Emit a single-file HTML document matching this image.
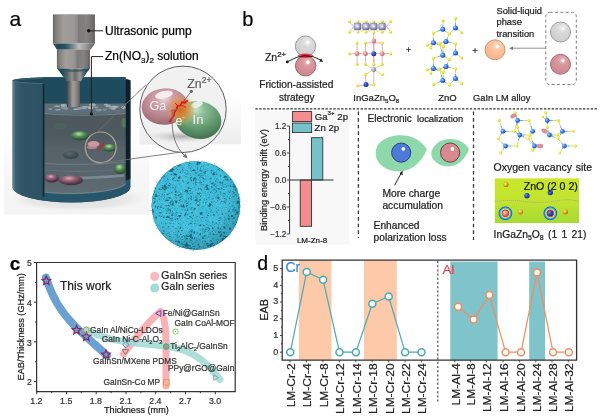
<!DOCTYPE html>
<html><head><meta charset="utf-8"><style>
html,body{margin:0;padding:0;background:#fff;}
svg{display:block;font-family:"Liberation Sans",Arial,sans-serif;}
</style></head><body>
<svg width="600" height="419" viewBox="0 0 600 419">
<defs>
<linearGradient id="gPump" x1="0" x2="1" y1="0" y2="0">
 <stop offset="0" stop-color="#656361"/><stop offset="0.06" stop-color="#7f7d7b"/>
 <stop offset="0.25" stop-color="#a19e9b"/><stop offset="0.5" stop-color="#9a9794"/>
 <stop offset="0.585" stop-color="#8e8b88"/><stop offset="0.6" stop-color="#7d7b79"/>
 <stop offset="0.8" stop-color="#858381"/><stop offset="0.93" stop-color="#747270"/>
 <stop offset="1" stop-color="#5c5a58"/></linearGradient>
<linearGradient id="gBevel" x1="0" x2="1" y1="0" y2="0">
 <stop offset="0" stop-color="#4a5558"/><stop offset="0.12" stop-color="#1f4654"/>
 <stop offset="0.3" stop-color="#2a5563"/><stop offset="0.48" stop-color="#7d878a"/>
 <stop offset="0.62" stop-color="#bcc0c1"/><stop offset="0.8" stop-color="#959595"/>
 <stop offset="1" stop-color="#5a5a5a"/></linearGradient>
<linearGradient id="gCone" x1="0" x2="1" y1="0" y2="0">
 <stop offset="0" stop-color="#123a48"/><stop offset="0.15" stop-color="#1e4a58"/>
 <stop offset="0.3" stop-color="#5a6266"/><stop offset="0.45" stop-color="#8e8e8e"/>
 <stop offset="0.55" stop-color="#6a6a6a"/><stop offset="0.7" stop-color="#9a9a9a"/>
 <stop offset="0.85" stop-color="#3a5560"/><stop offset="1" stop-color="#123a48"/></linearGradient>
<linearGradient id="gNoz" x1="0" x2="1" y1="0" y2="0">
 <stop offset="0" stop-color="#3a4548"/><stop offset="0.2" stop-color="#6a6a6a"/><stop offset="0.45" stop-color="#a09e9c"/>
 <stop offset="0.75" stop-color="#85827f"/><stop offset="1" stop-color="#5a5a5a"/></linearGradient>
<linearGradient id="gWall" x1="0" x2="1" y1="0" y2="0">
 <stop offset="0" stop-color="#8a9ea8"/><stop offset="0.03" stop-color="#5f7b88"/><stop offset="0.1" stop-color="#3c6272"/>
 <stop offset="0.3" stop-color="#2f5567"/><stop offset="1" stop-color="#2b5163"/></linearGradient>
<linearGradient id="gBack" x1="0" x2="0" y1="0" y2="1">
 <stop offset="0" stop-color="#1e4c5f"/><stop offset="1" stop-color="#1f4a5c"/></linearGradient>
<linearGradient id="gLiq" x1="0" x2="0" y1="0" y2="1">
 <stop offset="0" stop-color="#66737a"/><stop offset="0.1" stop-color="#4c575e"/>
 <stop offset="0.35" stop-color="#4e5960"/><stop offset="0.5" stop-color="#566168"/><stop offset="0.8" stop-color="#59656c"/><stop offset="1" stop-color="#606d74"/></linearGradient>
<radialGradient id="gGa" cx="0.5" cy="0.3" r="0.75">
 <stop offset="0" stop-color="#ead2d5"/><stop offset="0.25" stop-color="#cfa1a8"/>
 <stop offset="0.6" stop-color="#b98690"/><stop offset="1" stop-color="#94626c"/></radialGradient>
<radialGradient id="gIn" cx="0.4" cy="0.25" r="0.8">
 <stop offset="0" stop-color="#c8e2cc"/><stop offset="0.25" stop-color="#8cbc96"/>
 <stop offset="0.6" stop-color="#639a70"/><stop offset="1" stop-color="#3f6c4a"/></radialGradient>
<radialGradient id="gGlow" cx="0.5" cy="0.5" r="0.5">
 <stop offset="0" stop-color="#e8601a" stop-opacity="0.95"/><stop offset="0.55" stop-color="#ec8a2a" stop-opacity="0.6"/>
 <stop offset="1" stop-color="#f0a040" stop-opacity="0"/></radialGradient>
<linearGradient id="gFloor" x1="0" x2="0" y1="0" y2="1"><stop offset="0" stop-color="#f7f7f7" stop-opacity="0"/><stop offset="0.5" stop-color="#f7f7f7" stop-opacity="1"/><stop offset="1" stop-color="#f4f4f4"/></linearGradient>
<radialGradient id="gFloorSh" cx="0.5" cy="0.5" r="0.5"><stop offset="0" stop-color="#dcdcdc"/><stop offset="0.7" stop-color="#e8e8e8"/><stop offset="1" stop-color="#f3f3f3" stop-opacity="0"/></radialGradient>
<linearGradient id="gBgRect" x1="0" x2="0" y1="0" y2="1"><stop offset="0" stop-color="#ffffff"/><stop offset="0.6" stop-color="#f4f4f4"/><stop offset="1" stop-color="#ececec"/></linearGradient>
<radialGradient id="gShadow" cx="0.5" cy="0.5" r="0.5">
 <stop offset="0" stop-color="#9a9a9a" stop-opacity="0.8"/><stop offset="1" stop-color="#cfcfcf" stop-opacity="0"/></radialGradient>
<radialGradient id="gPinkE" cx="0.42" cy="0.3" r="0.75">
 <stop offset="0" stop-color="#dcaabb"/><stop offset="0.3" stop-color="#9c6c7e"/><stop offset="0.7" stop-color="#5c3c4a"/><stop offset="1" stop-color="#36222a"/></radialGradient>
<radialGradient id="gGreenE" cx="0.45" cy="0.3" r="0.7">
 <stop offset="0" stop-color="#b4e0ac"/><stop offset="0.4" stop-color="#5a945c"/><stop offset="1" stop-color="#223e2a"/></radialGradient>
<radialGradient id="gDarkE" cx="0.4" cy="0.3" r="0.7">
 <stop offset="0" stop-color="#5a6a70"/><stop offset="1" stop-color="#2e3c42"/></radialGradient>
<radialGradient id="gSph" cx="0.45" cy="0.4" r="0.6">
 <stop offset="0" stop-color="#3fbddb"/><stop offset="0.8" stop-color="#36b2cf"/><stop offset="1" stop-color="#2ea5c3"/></radialGradient>
<radialGradient id="gSphShade" cx="0.42" cy="0.38" r="0.62">
 <stop offset="0.7" stop-color="#0a3a48" stop-opacity="0"/><stop offset="1" stop-color="#0a3a48" stop-opacity="0.25"/></radialGradient>
<clipPath id="cSph"><circle cx="195.9" cy="205.5" r="44.2"/></clipPath>
<clipPath id="cSmall"><circle cx="100.7" cy="147.4" r="15.2"/></clipPath>

<radialGradient id="atW" cx="0.4" cy="0.4" r="0.7"><stop offset="0" stop-color="#ffffff"/><stop offset="1" stop-color="#d0d0d8"/></radialGradient>
<radialGradient id="atY" cx="0.35" cy="0.35" r="0.7"><stop offset="0" stop-color="#fbfb9a"/><stop offset="0.6" stop-color="#e6e62a"/><stop offset="1" stop-color="#b5b510"/></radialGradient>
<radialGradient id="atB" cx="0.35" cy="0.35" r="0.7"><stop offset="0" stop-color="#a8d0ff"/><stop offset="0.5" stop-color="#3a7ee0"/><stop offset="1" stop-color="#1c4ca8"/></radialGradient>
<radialGradient id="atD" cx="0.35" cy="0.35" r="0.7"><stop offset="0" stop-color="#6f8ff0"/><stop offset="0.5" stop-color="#2a4fc8"/><stop offset="1" stop-color="#102a80"/></radialGradient>
<radialGradient id="atR" cx="0.35" cy="0.35" r="0.7"><stop offset="0" stop-color="#f8d0d0"/><stop offset="0.55" stop-color="#e08a8a"/><stop offset="1" stop-color="#b85a5a"/></radialGradient>
<radialGradient id="atP" cx="0.35" cy="0.35" r="0.7"><stop offset="0" stop-color="#e4e4f8"/><stop offset="0.55" stop-color="#a4a4cc"/><stop offset="1" stop-color="#6e6e98"/></radialGradient>
<radialGradient id="atG" cx="0.35" cy="0.35" r="0.7"><stop offset="0" stop-color="#ffe890"/><stop offset="0.55" stop-color="#e0a820"/><stop offset="1" stop-color="#a07010"/></radialGradient>
<radialGradient id="sGray" cx="0.6" cy="0.3" r="0.8"><stop offset="0" stop-color="#f0f0f0"/><stop offset="0.3" stop-color="#dadada"/><stop offset="0.85" stop-color="#cdcdcd"/><stop offset="1" stop-color="#bdbdbd"/></radialGradient>
<radialGradient id="sRed" cx="0.6" cy="0.3" r="0.8"><stop offset="0" stop-color="#f0c4c8"/><stop offset="0.3" stop-color="#d9979e"/><stop offset="0.85" stop-color="#cd8790"/><stop offset="1" stop-color="#bd7680"/></radialGradient>
<radialGradient id="sOr" cx="0.6" cy="0.3" r="0.8"><stop offset="0" stop-color="#fde2cc"/><stop offset="0.3" stop-color="#fbc6a2"/><stop offset="0.85" stop-color="#f6b48c"/><stop offset="1" stop-color="#eca47c"/></radialGradient>
<linearGradient id="gDft" x1="0" x2="0" y1="0" y2="1"><stop offset="0" stop-color="#c9e62a"/><stop offset="0.5" stop-color="#c2e430"/><stop offset="1" stop-color="#a6da32"/></linearGradient>
<radialGradient id="gRing" cx="0.5" cy="0.5" r="0.5"><stop offset="0" stop-color="#f05050"/><stop offset="0.45" stop-color="#f03030"/><stop offset="0.55" stop-color="#f0e030"/><stop offset="0.68" stop-color="#30c0f0"/><stop offset="0.85" stop-color="#2060d0"/><stop offset="1" stop-color="#a8dc40" stop-opacity="0"/></radialGradient>
</defs>
<rect width="600" height="419" fill="#fff"/>
<g id="pa"><rect x="3.7" y="130" width="145.7" height="84.5" fill="url(#gFloor)"/>
<ellipse cx="78" cy="199" rx="72" ry="13" fill="url(#gFloorSh)"/>
<path d="M12.500000000000007,80.5 A58.9,3.6 0 0 1 130.3,80.5 L130.3,187.0 A58.9,15.4 0 0 1 12.500000000000007,187.0 Z" fill="#21485a"/>
<path d="M13.500000000000007,80.8 A57.9,2.8 0 0 1 129.3,80.8" stroke="#3d6678" stroke-width="0.8" fill="none"/>
<rect x="43.3" y="77" width="82.5" height="30.0" fill="url(#gBack)"/>
<path d="M14.500000000000007,80.5 A56.9,3.1 0 0 1 128.3,80.5" stroke="#2c5a6c" stroke-width="1" fill="none"/>
<path d="M43.3,106.0 L125.8,106.0 L125.8,183.9 L122.4,186.2 L118.9,187.7 L115.5,188.7 L112.0,189.6 L108.6,190.3 L105.2,190.9 L101.7,191.5 L98.3,191.9 L94.9,192.3 L91.4,192.6 L88.0,192.9 L84.5,193.1 L81.1,193.3 L77.7,193.4 L74.2,193.5 L70.8,193.5 L67.4,193.5 L63.9,193.4 L60.5,193.3 L57.0,193.2 L53.6,193.0 L50.2,192.8 L46.7,192.5 L43.3,192.1 Z" fill="url(#gLiq)"/>
<path d="M43.3,103.5 L125.8,103.5 L125.8,112.5 Q85,115.5 43.3,112.5 Z" fill="#5d6f78"/>
<ellipse cx="64.0" cy="107.8" rx="3.3" ry="1.2" fill="#8a979e" opacity="0.85"/>
<ellipse cx="90.9" cy="108.1" rx="1.9" ry="0.9" fill="#b4bcc0" opacity="0.85"/>
<ellipse cx="123.5" cy="107.3" rx="2.2" ry="1.6" fill="#b4bcc0" opacity="0.85"/>
<ellipse cx="63.5" cy="105.4" rx="2.9" ry="1.4" fill="#b4bcc0" opacity="0.85"/>
<ellipse cx="50.3" cy="109.0" rx="2.0" ry="0.7" fill="#9aa6ad" opacity="0.85"/>
<ellipse cx="113.2" cy="107.3" rx="2.9" ry="1.6" fill="#b4bcc0" opacity="0.85"/>
<ellipse cx="76.3" cy="109.3" rx="3.4" ry="0.8" fill="#b4bcc0" opacity="0.85"/>
<ellipse cx="74.0" cy="104.7" rx="1.8" ry="1.7" fill="#b4bcc0" opacity="0.85"/>
<ellipse cx="79.5" cy="108.3" rx="2.2" ry="1.5" fill="#8a979e" opacity="0.85"/>
<ellipse cx="90.4" cy="107.7" rx="2.6" ry="1.6" fill="#b4bcc0" opacity="0.85"/>
<ellipse cx="98.8" cy="110.1" rx="3.5" ry="1.4" fill="#8a979e" opacity="0.85"/>
<ellipse cx="58.1" cy="109.7" rx="2.9" ry="0.9" fill="#9aa6ad" opacity="0.85"/>
<ellipse cx="110.6" cy="107.9" rx="1.6" ry="1.2" fill="#8a979e" opacity="0.85"/>
<ellipse cx="95.4" cy="107.4" rx="3.1" ry="1.1" fill="#8a979e" opacity="0.85"/>
<ellipse cx="57.1" cy="106.3" rx="3.2" ry="0.7" fill="#b4bcc0" opacity="0.85"/>
<ellipse cx="93.5" cy="104.8" rx="2.5" ry="1.6" fill="#8a979e" opacity="0.85"/>
<ellipse cx="67.2" cy="105.9" rx="2.0" ry="0.8" fill="#9aa6ad" opacity="0.85"/>
<ellipse cx="92.4" cy="104.7" rx="3.4" ry="1.0" fill="#a8b2b8" opacity="0.85"/>
<ellipse cx="66.0" cy="108.6" rx="2.0" ry="1.7" fill="#8a979e" opacity="0.85"/>
<ellipse cx="115.7" cy="106.8" rx="3.2" ry="1.1" fill="#b4bcc0" opacity="0.85"/>
<ellipse cx="113.3" cy="108.6" rx="2.7" ry="1.6" fill="#9aa6ad" opacity="0.85"/>
<ellipse cx="85.1" cy="107.1" rx="3.4" ry="1.1" fill="#a8b2b8" opacity="0.85"/>
<ellipse cx="65.6" cy="106.3" rx="1.3" ry="1.1" fill="#8a979e" opacity="0.85"/>
<ellipse cx="90.8" cy="104.6" rx="1.4" ry="1.3" fill="#a8b2b8" opacity="0.85"/>
<ellipse cx="81.9" cy="108.6" rx="2.6" ry="1.0" fill="#8a979e" opacity="0.85"/>
<ellipse cx="83.7" cy="108.0" rx="3.4" ry="1.0" fill="#9aa6ad" opacity="0.85"/>
<ellipse cx="81.1" cy="108.1" rx="1.7" ry="0.9" fill="#8a979e" opacity="0.85"/>
<ellipse cx="104.8" cy="109.6" rx="2.0" ry="1.1" fill="#8a979e" opacity="0.85"/>
<ellipse cx="105.9" cy="104.7" rx="2.0" ry="0.9" fill="#a8b2b8" opacity="0.85"/>
<ellipse cx="108.4" cy="105.9" rx="2.8" ry="1.3" fill="#a8b2b8" opacity="0.85"/>
<path d="M43.3,113.5 Q85,117 125.8,113.5" stroke="#7f8f96" stroke-width="1" fill="none" opacity="0.8"/>
<path d="M43.3,163.5 Q85,166 125.8,162" stroke="#6e7e86" stroke-width="1.6" fill="none" opacity="0.7"/>
<path d="M43.3,170 Q85,173 125.8,169" stroke="#6a7a82" stroke-width="1.2" fill="none" opacity="0.6"/>
<path d="M62,178.5 Q95,178 124,175.5" stroke="#8a9aa2" stroke-width="2.4" fill="none" opacity="0.7"/>
<ellipse cx="60" cy="126" rx="7" ry="3.2" fill="#4a6a58" opacity="0.55"/>
<ellipse cx="79.7" cy="135.8" rx="9" ry="4.6" fill="url(#gGreenE)"/>
<ellipse cx="70.8" cy="155" rx="8" ry="3.8" fill="url(#gDarkE)" opacity="0.85"/>
<ellipse cx="51.9" cy="178.2" rx="7.2" ry="4.3" fill="url(#gPinkE)"/>
<ellipse cx="70.9" cy="180.3" rx="12" ry="5" fill="url(#gPinkE)"/>
<ellipse cx="120" cy="169" rx="6" ry="5" fill="url(#gGreenE)"/>
<ellipse cx="124" cy="123" rx="2.5" ry="5" fill="#5f8f66" opacity="0.5"/>
<path d="M43.3,192.1 L46.7,192.5 L50.2,192.8 L53.6,193.0 L57.0,193.2 L60.5,193.3 L63.9,193.4 L67.4,193.5 L70.8,193.5 L74.2,193.5 L77.7,193.4 L81.1,193.3 L84.5,193.1 L88.0,192.9 L91.4,192.6 L94.9,192.3 L98.3,191.9 L101.7,191.5 L105.2,190.9 L108.6,190.3 L112.0,189.6 L115.5,188.7 L118.9,187.7 L122.4,186.2 L125.8,183.9 L125.8,178.7 L130.3,178.7 L130.3,187.0 A58.9,15.4 0 0 1 43.3,200.5 Z" fill="#27566a"/>
<path d="M43.3,192.1 L46.7,192.5 L50.2,192.8 L53.6,193.0 L57.0,193.2 L60.5,193.3 L63.9,193.4 L67.4,193.5 L70.8,193.5 L74.2,193.5 L77.7,193.4 L81.1,193.3 L84.5,193.1 L88.0,192.9 L91.4,192.6 L94.9,192.3 L98.3,191.9 L101.7,191.5 L105.2,190.9 L108.6,190.3 L112.0,189.6 L115.5,188.7 L118.9,187.7 L122.4,186.2 L125.8,183.9" stroke="#8a9aa2" stroke-width="0.9" fill="none" opacity="0.8"/>
<path d="M12.500000000000007,80.5 A58.9,3.6 0 0 0 43.3,83.7 L43.3,200.5 A58.9,15.4 0 0 1 12.500000000000007,187.0 Z" fill="url(#gWall)"/>
<path d="M13.000000000000007,80.7 A58.9,3.6 0 0 0 43.3,83.7" stroke="#4a7080" stroke-width="0.9" fill="none"/>
<rect x="42.699999999999996" y="83.7" width="1.8" height="112.9" fill="#122a36"/>
<path d="M125.8,79.5 L130.5,80.3 L130.5,178.7 L125.8,180.5 Z" fill="#0e212b"/>
<path d="M54.2,14.3 L93.6,14.3 Q94.9,14.3 94.9,15.6 L94.9,43.4 L52.9,43.4 L52.9,15.6 Q52.9,14.3 54.2,14.3 Z" fill="url(#gPump)"/><path d="M54.2,14.6 L93.6,14.6" stroke="#b0aeac" stroke-width="0.6"/>
<path d="M52.9,43.4 L94.9,43.4 L90.6,49.8 L57.0,49.8 Z" fill="url(#gBevel)"/>
<rect x="56.9" y="49.6" width="33.0" height="19.1" fill="url(#gPump)"/>
<path d="M57.3,68.4 L89.7,68.4 L80.7,81.5 L66.7,81.5 Z" fill="url(#gCone)"/><path d="M57.3,68.4 Q73.5,71 89.7,68.4 L88.5,70.2 Q73.5,73.5 58.5,70.2 Z" fill="#24505e" opacity="0.7"/>
<rect x="67" y="81" width="13" height="26" fill="url(#gNoz)"/>
<circle cx="88.7" cy="30.8" r="1.7" fill="#111"/><line x1="88.7" y1="30.8" x2="103.2" y2="30.8" stroke="#222" stroke-width="1"/>
<circle cx="91.4" cy="113.9" r="1.6" fill="#111"/><polyline points="91.4,113.9 91.4,56.6 103.2,56.6" fill="none" stroke="#222" stroke-width="1"/>
<text x="105" y="35" font-size="12" stroke="#111" stroke-width="0.22">Ultrasonic pump</text>
<text x="105" y="60" font-size="12" stroke="#111" stroke-width="0.22">Zn(NO<tspan font-size="8" dy="3">3</tspan><tspan dy="-3">)</tspan><tspan font-size="8" dy="3">2</tspan><tspan dy="-3"> solution</tspan></text>
<text x="9.6" y="25.8" font-size="21" stroke="#111" stroke-width="0.22">a</text>
<g clip-path="url(#cSmall)"><ellipse cx="93.5" cy="144" rx="6" ry="3" fill="#d9a0aa" opacity="0.9"/><ellipse cx="92" cy="147" rx="5" ry="2" fill="#c98f9a" opacity="0.8"/><ellipse cx="109.5" cy="147.8" rx="6.5" ry="3.8" fill="url(#gGreenE)"/><path d="M104,143 L101,147 L99.5,149" stroke="#e01818" stroke-width="1.4" fill="none"/></g>
<circle cx="100.7" cy="147.4" r="15.4" fill="none" stroke="#aaa49c" stroke-width="1.2"/>
<line x1="95.9" y1="133.3" x2="145.9" y2="84.8" stroke="#727272" stroke-width="0.9"/>
<line x1="101.7" y1="163" x2="180" y2="152.2" stroke="#727272" stroke-width="0.9"/>
<rect x="139.5" y="96" width="101.5" height="48.4" fill="url(#gBgRect)"/>
<circle cx="183" cy="109.3" r="43.2" fill="#f1f1f1" stroke="#5e5e5e" stroke-width="1"/>
<ellipse cx="182" cy="136.5" rx="38" ry="6.5" fill="url(#gShadow)"/>
<ellipse cx="164.8" cy="106.6" rx="23.2" ry="18.2" fill="url(#gGa)" transform="rotate(-5 164.8 106.6)"/>
<ellipse cx="198.5" cy="120" rx="23" ry="18.8" fill="url(#gIn)" transform="rotate(10 198.5 120)"/>
<ellipse cx="164" cy="94.8" rx="9" ry="3.8" fill="#fbf4f5" opacity="0.9" transform="rotate(-12 164 94.8)"/>
<ellipse cx="197" cy="104.5" rx="6" ry="3.2" fill="#f2f8f2" opacity="0.85" transform="rotate(-20 197 104.5)"/>
<ellipse cx="181" cy="110" rx="15" ry="16" fill="url(#gGlow)"/>
<path d="M188,100.3 L184.5,103 L182,102 L180.5,105.5 L177.5,106 L176.5,109.5 L174.5,112 L174,115.5 L171.5,118.5 L169.5,122.4" stroke="#e3141a" stroke-width="1.7" fill="none" stroke-linejoin="round"/>
<path d="M181.5,105 L186,107.5 M178,106 L175,103 M176,110 L172,110.5 M183,103.5 L185,99" stroke="#e3141a" stroke-width="0.9" fill="none"/>
<path d="M179.4,109.2 L171.5,110.6" stroke="#7a7a7a" stroke-width="0.8" fill="none"/><path d="M170.2,110.9 L172.8,109.3 L173,112 Z" fill="#7a7a7a"/>
<circle cx="191.3" cy="91.3" r="1.6" fill="#666"/><line x1="191.3" y1="91.3" x2="183.5" y2="101.5" stroke="#707070" stroke-width="0.9"/>
<text x="187.3" y="87.5" font-size="12.3" fill="#606060" stroke="#606060" stroke-width="0.22">Zn<tspan font-size="8.5" dy="-4.8">2+</tspan></text>
<text x="149.4" y="109.8" font-size="12.6" fill="#f4f4f4">Ga</text>
<text x="192.6" y="123.8" font-size="13" fill="#f4f4f4">In</text>
<text x="175.4" y="124.7" font-size="12.5" fill="#f4f4f4">e<tspan font-size="7.5" dy="-5.5">-</tspan></text>
<path d="M172.3,112 C171,134 175,147 185.5,156.5" stroke="#707070" stroke-width="0.9" fill="none"/>
<path d="M187.6,158.6 L182.5,156.5 L185.8,153.6 Z" fill="#707070"/>
<circle cx="195.9" cy="205.5" r="44.3" fill="#1b6c84"/>
<g clip-path="url(#cSph)"><path d="M189.2,219.0l-2.0,3.9M166.2,198.8l6.9,1.3M222.2,211.8l4.4,1.0M157.4,223.0l4.9,2.0M166.5,171.3l-1.5,6.2M208.0,202.8l-5.2,2.5M202.8,213.9l5.0,7.3M211.5,233.4l-2.6,5.7M182.7,201.7l5.1,1.0M181.5,176.0l4.1,6.3M175.9,210.1l-6.5,4.9M197.5,234.6l-0.7,9.2M195.2,181.7l-4.7,0.3M159.1,223.0l6.2,3.2M233.9,211.9l-5.5,5.0M215.8,184.8l-4.4,6.2M173.8,188.7l-8.5,4.7M156.1,210.6l8.1,1.6M171.6,168.6l-4.8,3.0M165.1,229.2l6.8,0.5M199.2,218.0l8.5,1.6M209.6,217.2l3.1,8.7M222.7,215.4l-1.4,9.2M211.3,165.5l4.2,5.0M171.9,237.6l-4.9,0.6M202.9,222.4l5.1,4.6M173.3,193.3l6.5,0.1M177.1,229.4l-8.1,1.2M162.2,200.3l-2.3,3.7M231.7,180.6l-8.1,3.4M170.3,221.8l7.4,2.5M204.6,208.4l3.9,3.0M188.0,214.1l4.9,0.0M212.9,221.1l9.2,0.7M180.8,192.1l4.3,4.3M190.1,215.0l-8.9,4.6M163.4,211.4l4.4,1.2M185.4,223.4l-4.3,2.5M239.1,209.3l-0.4,4.9M189.3,198.6l-0.9,9.8M218.0,175.1l4.2,4.5M215.8,235.1l-0.9,8.6M189.9,221.2l-8.2,5.5M223.5,171.3l-7.1,4.6M199.6,235.3l1.8,3.8M216.3,206.6l5.6,5.9M229.4,196.5l-9.7,2.0M219.6,196.3l4.1,3.4M204.3,220.2l-3.6,8.7M214.5,175.6l-4.1,7.8M231.2,222.7l-8.3,2.4M192.2,172.4l7.4,4.6M179.3,239.8l-6.3,0.6M162.3,228.7l-3.3,3.8M212.2,216.6l-8.4,2.6M224.4,237.4l-7.9,0.5M174.6,231.3l3.7,1.6M231.6,194.2l-0.8,9.6M160.1,220.9l-4.5,2.7M192.9,227.0l5.5,5.2M189.9,232.4l8.7,3.8M178.8,224.9l-2.4,9.1M158.5,222.3l-0.0,7.2M189.4,202.1l1.0,5.0M232.7,204.7l5.9,3.5M188.9,169.7l3.7,6.1M155.4,190.8l7.0,2.4M198.8,226.6l-5.3,4.6M163.2,189.9l-6.4,1.8M172.0,180.9l-0.3,8.2M164.5,210.3l0.7,9.6M185.6,165.4l-5.5,1.0M157.8,188.6l-4.2,2.3M214.6,225.4l5.3,1.2M232.2,218.7l-7.3,5.9M218.3,234.4l-2.3,4.3M224.6,173.0l7.5,6.2M175.5,223.9l-9.0,0.3M211.5,227.3l-0.3,6.0M205.6,227.6l-2.6,3.2M165.1,195.5l6.0,0.3M168.4,182.1l9.7,2.0M203.7,162.0l5.3,1.8M232.4,213.4l3.2,3.6M160.7,223.9l-4.7,3.0M222.0,235.9l-1.8,8.0M206.8,208.5l-3.7,5.4M236.4,220.4l-3.6,8.0M227.0,225.2l9.0,1.9M171.9,208.2l-1.6,9.4M194.3,218.7l-0.5,5.4M207.1,216.4l5.1,0.8M188.7,226.3l-4.2,3.9M176.2,203.7l1.9,3.6M198.3,208.3l-4.9,5.4M209.6,233.5l-4.5,0.9M208.1,174.4l0.1,9.0M173.9,221.1l-5.5,8.2M175.9,236.3l-4.7,6.2M171.9,219.9l4.7,0.8M228.8,220.2l3.5,3.6M234.8,224.6l-7.4,3.2M189.5,224.3l4.1,5.4M208.9,226.7l6.6,7.2M224.8,196.5l7.0,6.8M183.0,230.2l6.3,0.0M161.9,208.4l5.7,4.1M215.7,205.3l6.1,1.8M200.8,205.0l3.1,4.4M170.9,186.1l-5.6,5.6M186.0,161.9l2.0,5.6M215.6,200.9l-5.1,6.0M238.7,215.3l-7.3,2.6M188.6,164.1l6.5,3.0M158.9,201.8l-7.3,5.2M161.8,180.9l-4.4,6.8M194.1,212.0l5.6,2.5M228.8,226.6l-1.4,7.6M170.1,177.3l0.1,4.0M207.3,165.1l-0.1,7.2M191.6,193.8l-3.7,4.1M218.1,213.9l-3.5,3.9M193.0,158.5l0.1,6.3M162.3,207.8l-5.7,5.1M185.7,194.6l4.9,2.5M195.3,179.0l-0.9,4.0M219.4,210.6l-4.2,7.0M185.3,180.7l-0.4,6.8M183.4,207.9l-4.9,1.7M235.2,199.4l6.7,0.4M214.1,163.1l0.9,5.5M203.8,245.1l5.9,4.6M218.5,230.2l-4.7,0.7M213.3,175.4l-7.7,2.9M200.7,245.3l0.2,4.1M226.6,203.3l0.9,5.7M210.0,221.9l4.9,7.6M236.5,204.8l-4.1,2.3M232.3,187.9l-5.5,1.7M180.3,225.6l-7.5,0.0M175.8,226.2l2.8,3.3M225.5,226.0l6.0,7.5M196.1,225.9l-0.2,5.1M169.6,235.0l-8.3,3.2M170.5,173.7l-7.2,1.4M196.3,193.3l-4.5,5.0M195.2,168.1l2.7,3.4M209.9,195.4l0.5,6.0M187.4,241.8l-5.5,0.4M182.9,182.1l-1.1,6.3M201.0,218.2l7.5,5.7M179.8,204.4l-9.5,2.9M178.2,209.4l3.7,2.6M186.5,214.9l4.1,3.8M160.2,185.5l-4.6,4.6M167.1,219.3l2.3,5.6M219.9,214.2l-4.7,0.5M163.0,203.6l-4.8,2.2M191.9,224.3l2.1,6.3M237.1,193.0l-3.8,1.6M235.9,211.9l-6.5,2.2M193.8,200.7l3.2,9.0M217.5,168.7l-5.5,0.5M209.7,212.5l-0.6,8.1M233.1,188.1l-3.8,7.7M159.7,213.7l8.6,1.1M201.8,245.3l-2.6,5.2M213.1,217.9l-3.4,7.5M205.2,209.4l-0.6,7.5M180.5,217.2l-1.3,3.9M190.2,233.6l-7.8,1.0M216.7,183.2l4.1,3.7M230.9,194.7l2.3,3.4M158.7,203.2l1.4,5.4M173.1,167.0l3.2,2.7M182.1,227.9l-2.8,4.4M207.1,166.3l-0.1,5.2M222.6,199.4l-4.5,2.9M199.9,239.8l5.8,7.8M174.2,203.9l5.0,4.2M171.1,166.7l5.7,2.8M204.1,247.3l3.9,1.9M226.3,214.3l-8.8,2.9M194.0,160.7l-5.8,1.3M214.3,243.6l-2.9,3.0M180.7,179.2l2.3,5.5M195.1,205.2l3.9,4.7M213.5,200.9l-5.2,0.6M173.6,235.4l-5.6,3.5M223.2,210.4l3.7,8.8M207.3,230.0l-4.0,1.3M163.5,225.4l-3.2,2.8M209.5,207.2l-5.4,1.4M193.8,160.9l2.7,4.9M226.8,193.3l5.6,6.1M182.2,226.8l8.5,0.1M228.6,187.4l-4.1,0.7M203.8,235.4l-9.6,1.3M178.3,216.7l1.5,6.8M216.5,194.7l-6.9,4.9M214.2,167.6l-2.0,5.6M186.3,228.3l-3.5,2.8M206.9,240.5l3.1,3.1M225.7,208.3l5.1,8.4M227.3,174.3l3.0,3.3M223.8,220.7l-4.1,5.3M200.2,230.4l-3.0,7.5M196.5,162.5l-2.3,4.1M209.6,182.2l-1.3,6.1M192.5,183.8l3.9,3.8M220.5,237.0l-1.5,5.8M160.8,229.7l-0.1,5.4M211.1,171.9l-4.6,0.1M160.3,209.6l-8.3,4.6M216.9,210.6l4.8,1.9M232.4,199.1l-6.1,1.4M212.8,180.1l5.9,6.3M210.7,197.0l-2.3,7.4M199.0,230.8l4.7,2.2M196.0,237.6l-2.4,4.6M222.6,205.2l-2.7,4.3M191.2,221.9l-5.8,4.4M207.8,207.5l2.4,6.9M183.7,193.2l7.1,4.0M173.2,214.2l5.5,8.0M181.7,233.5l2.8,5.9M224.0,169.7l2.2,4.7M188.4,185.5l9.4,0.2M158.8,219.6l2.7,8.9M174.8,209.7l7.3,0.3M165.3,171.6l7.4,2.1M171.6,227.2l5.1,2.5M150.2,198.7l6.5,2.3M208.7,162.9l3.9,2.8M237.0,188.0l0.2,4.3M224.4,192.0l-7.4,2.3M206.0,187.9l-4.2,3.3M164.3,227.3l-4.4,2.6M201.7,229.9l-0.4,6.3M214.8,217.4l-6.1,7.1M229.7,212.6l-3.1,2.9M205.1,189.0l-2.2,6.9M177.8,184.2l1.9,7.3M163.1,218.5l1.1,6.5M230.4,207.9l0.2,5.4M198.9,163.8l0.7,5.0M178.5,206.6l6.1,2.6M220.8,219.5l-0.1,4.2M190.4,192.6l-5.8,6.4M185.6,201.6l-0.1,6.3M216.0,198.3l-9.0,4.3M187.3,162.8l8.1,5.7M154.8,207.1l-4.8,1.3M203.2,163.2l6.0,1.2M199.3,186.9l-5.4,1.8M202.7,185.3l-0.1,9.5M201.9,224.6l-0.1,5.9M210.2,207.5l8.4,4.7M174.1,165.2l7.5,4.4M221.5,224.1l-2.6,5.6M220.2,177.3l-2.3,9.0M232.3,229.7l-2.5,5.8M206.4,183.5l-7.5,0.2M170.6,233.0l0.9,5.0M197.8,194.2l-4.7,3.0M168.7,167.8l-2.1,7.7M192.7,207.0l4.9,0.5M174.3,181.3l-0.4,9.4M211.2,219.3l-1.9,3.7M219.5,204.9l5.8,2.0M202.1,236.5l-1.4,5.0M169.7,182.0l8.8,4.0M192.9,221.5l7.5,2.3M222.2,174.4l1.7,5.3M232.1,205.1l-1.2,6.0M181.9,181.2l-8.2,1.6M192.7,247.3l7.1,1.0M173.6,216.8l8.5,1.6M231.2,207.6l-4.8,0.9M206.8,234.5l-0.2,7.8M201.5,186.0l3.3,4.8M239.2,215.5l-6.4,5.2M239.1,204.7l-4.7,4.9M192.6,174.1l3.5,3.0M194.8,210.5l4.2,7.4M183.8,164.8l-3.5,4.4M171.0,193.6l-5.6,4.4M195.1,240.7l-5.3,0.6M198.1,199.8l3.7,4.0M196.3,160.1l-4.2,4.3M211.1,184.8l6.9,6.4M173.1,174.1l-4.9,8.6M158.5,209.5l-5.3,7.4M161.6,217.2l-1.3,5.7M199.6,238.5l9.2,2.3M195.9,209.7l9.0,3.1M184.4,219.2l4.2,0.4M185.8,168.9l-4.9,6.9M225.4,215.2l3.7,8.1M209.2,166.5l9.0,1.9M230.6,182.5l4.9,1.7M206.1,208.8l-7.9,4.1M170.2,172.7l-2.3,5.2M209.1,211.9l-3.8,3.6M180.9,231.6l5.5,0.4M187.1,239.7l2.4,5.4M230.1,196.7l-6.9,3.5M223.1,206.8l1.7,8.5M174.9,233.5l-0.6,5.3M206.7,193.9l-4.2,2.7M219.5,202.3l-7.2,6.7M226.9,202.0l0.2,8.8M206.3,230.2l4.2,8.0M191.4,246.6l3.3,4.1M182.4,174.3l7.4,2.6M232.9,221.2l-5.1,7.1M176.5,183.4l1.9,6.1M207.9,196.5l-3.9,1.4M205.5,226.4l-6.7,2.1M163.0,232.0l5.0,4.5M160.8,195.1l-5.6,5.5M177.1,224.1l8.0,4.2M172.9,171.2l5.7,3.4M197.7,170.7l6.2,2.6M209.8,189.5l4.8,3.3M181.9,165.2l4.4,2.3M196.5,228.5l-0.3,5.0M191.0,222.3l-8.3,0.7M227.9,230.6l6.0,2.0M237.6,199.0l-4.4,4.9M205.2,238.2l4.9,1.7M188.3,206.6l2.7,8.3M186.3,172.9l-2.7,6.2M216.4,228.4l2.5,8.1M221.3,185.4l-2.0,8.3M180.2,212.1l-6.0,7.1M205.1,166.9l-7.2,3.6M174.9,179.0l4.3,6.5M222.7,219.5l-6.4,5.2M179.8,186.0l1.6,6.5M177.8,181.7l-5.0,8.2M213.0,236.3l-4.9,4.1M148.5,207.9l7.2,0.9M220.3,238.2l-7.0,1.3M223.6,221.4l-1.1,8.2M163.5,201.0l-6.1,3.6M156.1,226.2l6.4,5.0M161.0,227.9l9.2,3.7M187.3,211.4l4.2,4.9M223.6,203.9l2.0,7.9M179.0,221.1l6.4,5.5M222.5,190.8l6.8,5.6M176.0,216.7l8.0,3.4M208.5,168.8l0.7,7.3M200.7,245.2l3.5,7.0M212.4,166.1l0.6,5.7M183.5,199.3l-5.3,3.1M208.5,184.4l2.1,5.1M174.6,214.1l8.3,0.1M189.6,224.3l4.0,5.6M165.4,218.2l-3.0,5.4M228.6,186.9l8.8,1.6M224.5,181.6l8.1,3.8M187.4,201.3l9.7,0.4M181.2,186.3l4.6,1.5M198.8,242.3l2.3,4.4M224.5,180.7l8.1,4.7M167.7,176.7l-4.7,8.1M202.2,163.5l6.6,4.7M157.4,193.6l1.8,9.1M172.6,196.1l3.6,3.2M184.9,203.5l0.5,4.8M165.1,202.6l-1.1,9.1M236.3,203.5l0.7,7.3M174.0,167.3l2.5,6.0M209.4,199.0l-3.3,7.1M232.7,207.7l-5.2,8.1M174.7,240.6l-0.2,6.9M204.9,197.6l-4.9,6.0M172.7,237.4l2.8,6.3M154.7,197.2l5.2,4.1M169.1,219.5l-4.9,3.0M209.2,177.7l-0.1,5.6M154.0,199.9l-4.1,7.7M181.5,224.4l4.4,6.1M165.7,175.4l8.3,1.0M217.8,183.4l5.7,0.9M219.0,205.3l-7.4,1.9M178.0,171.3l-7.4,2.1M171.9,178.8l-4.4,6.2M189.0,184.0l-3.4,5.8M195.2,190.2l3.6,2.3M203.9,160.7l-2.9,5.5M213.8,167.3l-1.1,5.4M184.8,230.1l3.6,5.5M165.2,171.4l7.3,1.3M213.9,207.2l-6.2,4.2M218.7,190.8l6.3,0.3M163.2,181.8l-6.8,0.4M184.9,210.6l-2.3,4.7M195.1,210.0l8.1,0.1M223.0,234.5l8.9,2.5M201.7,207.7l-3.5,4.2M189.6,185.7l8.5,1.4M188.0,163.7l-3.0,3.4M169.4,173.6l1.2,9.5M196.1,247.6l-2.6,3.2M233.5,207.6l-3.8,2.4M177.7,238.5l7.9,4.6M183.6,203.0l3.0,6.8M158.0,217.3l7.9,3.9M173.9,229.6l-2.6,6.0M170.5,230.7l-8.6,1.5M169.1,194.8l9.7,1.9M182.3,163.5l3.8,6.6M237.0,197.0l-1.8,5.6M156.6,219.9l3.1,7.5M164.4,178.7l-4.7,3.2M217.8,202.1l1.8,7.3M208.3,166.5l8.9,1.2M212.2,164.4l-1.3,5.5M222.2,169.4l-5.2,7.9M189.2,211.8l-1.5,8.7M210.4,241.6l-5.3,1.2M166.9,180.1l0.6,5.2M197.4,242.0l-5.4,4.1M232.0,224.7l-4.1,3.5M162.3,184.0l-6.7,2.5M160.0,209.1l4.3,2.9M210.1,235.9l3.1,6.7M167.8,222.9l3.8,1.9M219.4,203.7l7.4,2.6M200.9,185.5l-1.8,5.8M184.6,204.2l9.9,1.0M217.2,179.6l-1.2,5.4M205.4,176.2l-8.5,1.4M212.7,164.3l3.0,3.0M199.6,223.0l4.2,1.1M156.4,186.1l1.3,9.6M206.4,196.4l-1.9,6.1M225.1,232.6l5.1,5.3M169.9,169.1l-3.2,5.5M184.0,210.6l-9.9,1.1M195.3,211.9l4.2,4.4M232.4,180.2l-3.7,2.1M206.6,164.5l-4.4,8.9M215.3,208.0l-6.9,6.7M186.3,179.6l-2.4,8.2M214.2,219.4l3.3,3.4M176.0,206.0l3.6,3.3M195.3,199.0l-3.3,4.0M234.0,212.0l7.4,6.1M221.0,172.9l6.0,2.8M234.5,228.2l-6.8,3.7M174.0,211.3l-5.8,3.6M182.6,192.0l3.3,2.8M184.3,171.2l8.3,4.1M190.5,232.6l5.0,2.6M206.6,182.0l6.0,3.5M173.7,242.2l9.2,3.5M236.7,217.9l-2.7,4.5M170.5,207.0l3.6,3.8M171.5,238.8l-9.6,0.1M217.5,218.6l-4.1,1.4M194.4,181.5l-4.1,0.3M203.2,180.3l3.6,1.7M209.1,175.6l5.5,3.6M214.1,192.2l-1.1,4.7M214.1,238.8l-3.2,4.1M208.6,208.5l-2.3,6.6M194.3,221.6l-2.9,7.7M207.0,172.7l3.5,2.6M194.2,175.6l-2.8,3.3M209.5,179.4l-8.1,4.4M193.7,204.8l-6.6,1.9M208.1,186.5l7.5,5.0M182.3,215.4l3.0,7.0M227.4,202.9l1.2,7.0M227.1,228.9l-7.7,5.0M178.2,235.4l3.1,7.9M237.9,220.6l-6.9,1.0M163.8,200.7l-0.5,4.1M214.6,200.0l3.9,2.5M193.5,245.5l4.6,0.4M185.9,186.6l7.6,0.4M168.7,188.8l-2.7,3.7M219.3,177.6l4.7,0.7M162.9,204.9l3.0,3.6M183.5,210.3l-2.6,8.8M217.9,230.6l-3.5,3.6M214.6,164.2l2.2,6.1M211.6,173.7l3.1,9.1M198.1,177.9l4.4,4.1M159.3,220.1l-7.7,5.5M208.7,167.3l7.0,1.2M235.1,191.9l4.6,4.6M178.1,183.4l-0.4,4.4M164.6,218.3l4.8,0.3M238.2,197.3l-7.6,1.5M213.1,165.8l-3.9,1.5M183.0,185.3l-3.0,4.8M155.6,191.7l-2.0,5.1M169.7,201.3l-5.7,0.9M180.2,237.8l7.0,2.8M224.3,194.3l4.5,5.1M176.9,201.0l4.4,1.8M186.5,230.7l3.4,4.3M227.3,220.9l-6.7,3.7M160.1,187.7l6.7,4.9M165.1,210.3l-2.4,6.4M185.1,223.6l5.4,4.5M167.6,228.2l6.1,0.2M210.6,185.5l-1.2,6.8M183.7,245.2l5.2,6.9M205.2,213.8l-6.1,2.6M220.7,211.9l1.6,8.3M216.4,218.3l-8.4,1.1M208.7,223.2l3.6,7.2M168.4,176.2l-6.0,3.8M195.7,164.9l-5.0,4.7M206.4,168.3l-4.6,1.3M200.7,200.9l-5.6,5.0M153.0,202.9l-1.5,6.3M205.7,161.9l-2.1,5.9M169.0,212.2l-3.7,4.4M169.2,223.8l2.1,5.5M205.4,162.3l0.0,6.7M202.4,226.3l6.7,3.3M187.3,198.3l-5.8,1.5M221.0,171.2l-5.2,0.7M155.7,224.4l4.3,0.1M171.3,192.0l-8.4,2.1M152.9,191.3l-0.4,7.1M183.3,176.6l3.3,6.8M172.1,237.3l-3.8,6.1M216.9,217.9l2.3,7.0M162.0,186.4l-6.9,0.8M166.2,218.4l-6.1,0.1M153.9,196.4l5.1,3.0M236.1,197.7l-0.2,4.7M229.2,180.1l-8.4,5.3M215.4,185.5l5.1,2.7M162.2,201.8l4.2,2.8M170.0,175.8l4.4,8.9M188.7,194.4l2.4,8.4M180.1,240.1l5.8,0.1M215.8,174.7l-2.6,4.5M160.2,203.0l5.3,5.8M153.1,193.6l-1.5,6.3M210.3,216.1l-3.4,3.2M211.1,211.9l-0.6,8.9M163.6,179.1l4.0,0.8M201.1,178.0l-3.8,4.8M202.6,224.1l9.0,2.9M172.6,189.4l1.0,6.2M236.7,214.9l-2.5,9.4M161.8,217.0l3.0,3.0M230.6,184.3l5.2,7.8M207.3,178.4l-3.1,9.3M150.3,204.5l4.6,4.4M189.2,181.2l5.2,7.6M154.7,207.6l3.6,3.5M186.7,220.2l-5.7,0.5M182.3,196.7l-0.7,6.3M182.4,210.3l8.3,3.4M180.5,221.6l4.7,3.2M198.1,211.2l-3.0,5.3M214.0,235.7l5.4,1.6M203.2,187.4l1.6,8.9M200.1,185.1l3.7,7.5M160.9,233.0l7.7,5.9M174.3,202.5l0.7,4.7M193.3,182.5l-7.2,2.3M181.9,219.3l-1.8,5.0M206.9,190.7l-0.3,7.2M189.5,240.6l2.8,7.4M172.5,193.1l1.5,4.2M211.9,238.9l4.3,6.7M220.3,223.4l3.0,6.3M191.1,214.2l3.0,4.4M220.3,229.8l4.1,5.0M233.1,182.6l-8.6,3.3M207.7,222.4l8.0,0.7M181.2,179.1l2.2,7.7M191.7,183.0l-5.4,2.8M178.4,190.1l8.9,3.4M190.0,167.9l4.2,0.5M204.5,219.8l3.6,5.1M221.0,209.3l-2.1,4.6M215.5,174.9l-3.5,4.3M161.2,218.4l1.8,3.6M214.4,170.0l2.6,3.3M214.3,177.6l5.4,0.8M222.5,228.1l7.5,5.8M197.7,189.8l-3.7,5.2M193.8,163.2l2.9,3.5M227.2,195.0l-8.0,1.8M194.3,162.0l-2.6,6.2M230.2,214.5l1.6,6.9M211.8,197.1l-3.1,2.9M181.7,164.6l5.0,5.3M231.2,196.0l-0.8,5.4M220.0,212.7l1.4,5.0M192.2,217.6l-4.9,6.4M197.7,224.0l-0.3,6.7M217.4,191.4l5.5,7.5M214.7,227.6l4.4,7.7M155.4,191.9l6.9,4.1M174.6,184.9l-6.7,6.0M212.8,218.9l2.2,4.7M214.5,211.8l6.7,4.8M179.9,207.4l3.6,5.8M182.0,218.9l4.0,0.9M230.4,202.5l8.0,2.2M225.8,200.2l6.5,2.3M178.4,211.3l-0.5,4.0M229.0,183.8l-3.8,8.8M181.4,185.5l3.5,3.4M237.0,210.9l-5.1,2.8M214.1,236.0l-8.5,4.5M218.9,237.7l-7.3,4.3M189.6,220.9l-5.1,3.1M171.7,225.7l3.6,8.2M197.3,210.7l-1.6,7.6M216.4,170.2l-9.2,2.8M161.9,205.2l5.1,2.8M186.3,197.3l-2.8,4.1M152.8,220.2l4.1,1.2M179.1,211.2l-2.6,3.1M220.7,168.8l-5.1,4.1M188.5,237.6l-0.3,6.5M182.5,226.6l-4.5,7.8M208.8,192.6l4.0,5.3M169.9,194.0l3.7,2.6M187.1,232.1l-9.4,0.9M228.9,172.2l-7.7,0.9M202.0,192.1l-4.0,6.5M189.5,237.2l-6.8,1.0M179.1,181.9l4.4,8.2M216.7,206.0l-3.6,5.7M225.5,220.5l2.9,6.9M168.5,218.6l-1.3,6.2M213.6,216.7l-6.9,2.5M225.8,230.7l3.2,3.3M173.9,197.6l0.2,7.3M197.5,237.6l6.6,2.5M184.6,196.7l1.3,4.3M158.2,216.7l-1.3,8.2M200.7,190.3l-8.3,0.2M227.5,227.4l1.7,4.7M230.1,195.6l-3.7,3.1M195.4,192.9l4.6,4.2M227.8,207.0l4.5,3.6M191.9,176.2l-7.3,2.6M223.5,180.3l-8.9,2.4M212.8,235.2l4.1,7.5M175.9,167.7l5.8,2.3M193.8,160.7l-2.7,3.3M185.4,192.6l-1.3,8.7M229.8,231.0l-2.9,4.7M209.6,231.5l-6.5,3.6M196.6,208.2l8.3,3.0M206.5,232.7l5.0,6.4M186.9,215.6l-6.7,2.8M183.1,168.0l-4.0,0.7M186.4,215.3l-0.1,9.2M194.8,195.1l7.5,4.8M183.8,177.8l0.4,4.9M215.1,180.9l-7.1,3.0M214.9,214.3l7.3,5.9M185.4,199.0l5.3,3.1M161.7,209.4l2.1,5.7M228.7,205.0l2.1,3.6M150.7,216.3l4.8,0.7M182.5,182.4l4.6,5.3M193.8,234.1l-0.9,9.7M204.9,200.9l-1.6,8.5M224.7,173.8l-3.2,7.1M184.2,220.6l-7.4,5.5M227.5,188.2l5.0,7.0M195.1,171.0l-2.5,5.6M166.0,196.0l5.9,1.1M176.1,242.0l0.4,6.2M195.7,224.9l2.2,4.3M236.9,204.1l1.0,6.6M171.8,194.1l3.8,2.2M190.4,226.2l-4.8,5.5M223.5,194.6l-7.3,1.8M213.6,209.8l-2.5,9.6M170.5,231.7l2.1,9.0M226.8,217.4l-5.4,1.8M193.1,210.9l4.9,2.8M189.2,183.1l1.6,4.9M164.0,178.3l-2.3,4.6M192.2,159.9l-1.4,4.3M209.9,164.6l2.3,4.2M211.9,234.2l-7.2,3.0M211.8,192.3l4.4,7.3M180.7,180.1l-3.2,5.1M218.9,215.1l7.7,1.1M180.9,229.8l-1.7,5.3M194.4,205.8l-7.2,1.7M207.9,200.8l-2.9,7.8M187.3,216.3l4.3,2.3M200.1,190.4l-5.5,3.6M163.4,193.4l-1.4,7.8M177.2,188.2l-3.8,4.0M188.8,165.9l-4.5,3.8M201.7,159.1l0.8,5.6M151.3,198.4l3.7,1.6M162.6,209.0l-4.7,4.0M218.7,202.5l-3.3,3.1M208.5,207.7l6.9,1.3M181.1,198.5l-6.1,1.2M210.2,217.1l-6.5,7.0M202.0,210.2l-4.2,3.5M228.4,199.3l-2.5,5.5M202.8,172.8l5.0,8.0M221.7,228.6l7.7,1.6M158.5,228.7l7.3,1.4M163.7,227.7l-7.6,1.3M197.3,225.1l4.5,4.8M201.1,222.7l-5.7,5.4M179.7,245.5l5.8,4.7M221.3,238.8l-5.1,2.2M194.4,162.8l3.8,4.6M150.5,207.3l7.1,3.9M172.5,183.8l-2.3,9.0M204.5,242.1l3.7,7.9M212.9,189.1l-9.1,4.1M189.2,210.5l9.2,3.4M234.6,206.1l7.5,3.8M212.1,214.1l-2.5,3.8M176.1,238.0l-5.8,7.2M200.7,201.5l6.5,5.9M192.7,194.8l-0.1,5.4M177.9,211.3l9.9,0.6M175.8,242.3l6.4,2.6M211.6,225.3l6.9,4.3M218.8,233.8l-0.0,4.7M179.9,229.7l-5.9,1.5M209.3,246.7l-7.8,3.0M191.7,222.4l3.0,3.3M225.4,210.5l2.1,7.0M195.1,205.7l-4.4,6.6M167.0,192.4l-5.6,8.2M221.5,175.9l1.8,5.6M156.5,223.9l2.2,5.9M183.7,214.5l-4.0,0.0M159.9,175.9l5.3,5.5M178.4,219.4l3.8,2.7M219.7,172.0l-4.1,1.2M188.8,178.4l-3.2,6.5M174.1,245.7l8.5,0.0M216.6,175.4l-2.9,9.6M201.5,238.4l-4.3,4.5M189.6,174.5l-0.6,7.7M186.2,179.5l-2.9,6.7M198.5,236.3l6.4,7.0M158.9,208.4l-0.5,6.8M202.4,221.2l-7.0,1.6M166.2,199.2l-4.5,3.0M214.3,237.2l1.0,7.8M217.5,167.4l-3.9,1.7M168.1,231.8l-4.0,2.6M205.7,222.9l5.8,1.9M206.1,172.9l0.7,4.5M162.6,229.9l-3.9,5.5M158.3,209.2l-3.6,3.4M184.6,178.4l-0.4,5.4M177.3,222.4l1.5,3.8M203.6,237.1l5.0,0.9M189.8,180.3l2.9,4.6M204.6,189.7l-3.8,8.3M207.6,230.8l-6.1,4.7M188.9,209.2l1.1,6.1M189.1,178.2l2.3,7.6M204.4,177.5l2.6,7.0M217.4,196.3l-8.2,0.7M169.5,229.7l2.3,3.8M197.2,174.6l-0.6,7.0M223.6,182.7l7.5,0.6M169.3,211.0l-5.7,3.1M153.8,209.0l1.3,6.8M157.8,198.9l-4.3,7.3M190.6,207.6l-3.9,6.2M198.1,165.8l5.0,1.9M229.4,223.5l4.3,1.4M192.6,171.4l8.0,1.4M184.4,174.8l8.0,1.4M170.8,222.2l-8.9,0.1M205.9,190.2l3.5,6.2M238.3,205.1l3.6,4.2M190.5,224.7l-6.6,3.1M164.2,203.0l5.8,0.9M225.1,174.7l-5.0,2.4M199.3,212.1l-0.7,6.2M166.4,209.4l-1.6,6.0M205.8,185.7l-7.1,1.8M219.9,210.2l-0.7,6.4M169.8,192.1l5.7,6.6M189.3,239.5l-6.1,4.4M153.8,213.0l1.6,9.1M224.2,214.0l-1.8,3.9M204.4,194.0l-1.5,4.9M228.2,187.8l-5.7,4.1M177.5,170.9l3.2,4.2M207.4,190.4l-5.1,1.3M210.7,210.6l-7.6,6.1M161.6,220.5l6.5,6.8M185.0,188.7l8.0,1.4M233.6,213.9l3.3,4.3M174.5,190.7l-0.9,4.8M219.6,191.0l-4.3,2.3M208.6,161.6l1.4,4.0M167.2,227.5l5.6,4.7M223.3,219.8l-4.3,5.0M191.4,190.7l-4.1,2.4M238.8,184.2l-7.0,1.4M191.7,228.4l-4.9,4.9M208.0,195.1l0.4,9.2M166.8,186.0l4.7,1.3M192.7,245.9l-4.7,2.5M204.5,197.2l-3.0,9.3M172.8,239.5l-2.0,3.8M178.0,228.4l6.0,5.9M211.7,239.3l2.6,3.6M183.8,196.2l-1.4,8.6M167.4,188.0l7.0,0.7M221.8,224.5l6.8,3.0M180.7,225.1l-2.4,4.3M214.5,239.4l4.6,7.8M215.5,182.5l4.1,2.1M206.9,191.4l0.1,7.2M215.3,224.2l6.3,3.6M166.4,202.5l5.2,3.7M197.1,217.5l6.7,6.3M149.1,204.8l9.6,0.5M157.3,204.4l-1.8,7.9M198.4,242.4l4.9,2.6M223.4,208.0l-0.3,5.7M206.5,194.7l-1.3,5.2M164.7,181.6l-2.7,3.4M198.9,239.8l-4.2,0.2M171.2,178.8l-5.1,3.3M209.1,176.9l-3.9,1.0M221.8,192.9l1.3,4.3M198.4,241.5l-2.6,4.2M184.4,217.8l4.3,3.1M178.8,243.8l-8.7,0.1M168.4,206.5l-7.3,6.0M193.1,167.7l6.3,4.5M214.3,171.8l8.0,2.4M189.4,219.6l-8.0,0.9M199.6,186.7l-8.3,4.9M231.4,181.7l-7.6,4.4M174.9,187.4l-7.4,4.5M216.2,187.4l-7.1,0.9M214.5,200.0l-8.7,0.9M193.5,244.5l3.9,3.5M174.9,206.4l0.2,9.4M179.6,166.9l2.9,8.2M210.3,169.3l-8.8,1.6M187.1,208.8l-4.2,8.0M181.4,232.4l-7.6,4.3M224.7,206.3l4.7,0.2M208.0,175.7l-2.2,6.4M183.4,219.1l4.0,8.1M175.6,188.3l5.4,1.5M189.1,173.4l-4.3,7.7M218.2,230.2l8.9,1.2M208.3,226.3l-6.1,0.8M204.3,242.5l-3.2,8.8M174.6,224.4l-7.0,1.0M217.4,202.8l-4.3,2.5M191.0,202.8l8.2,5.1M155.3,214.6l4.3,4.3M225.8,223.6l-6.4,3.0M169.0,234.2l-7.6,2.6M226.3,216.8l1.7,9.6M173.8,230.3l-2.5,5.7M163.0,199.4l-6.7,2.0M162.7,237.9l8.9,1.6M181.7,170.9l1.4,8.4M226.8,180.0l-3.0,3.0M193.0,219.5l-9.2,1.4M217.4,230.3l-1.0,4.2M167.1,227.0l-2.4,5.1M198.2,178.3l-0.9,6.5M234.7,198.3l-6.6,4.6M166.5,232.1l-5.0,6.4M193.9,218.8l-2.1,8.7M199.8,178.7l6.4,3.0M210.5,191.2l-3.4,3.7M190.1,212.5l3.7,5.1M236.2,194.9l4.9,3.2M212.7,195.9l3.5,5.6M212.5,216.8l2.1,6.0M214.5,197.5l7.6,5.7M159.0,214.1l-3.6,7.9M191.5,219.1l-4.9,4.7M163.9,190.4l-4.0,4.0M168.4,235.0l-0.5,5.7M182.0,187.6l-3.2,2.8M209.3,171.5l4.3,8.6M190.2,226.6l7.1,1.6M195.6,164.6l2.4,8.5M216.9,217.0l-4.3,8.8M173.6,175.8l-4.8,4.1M230.1,188.7l3.0,5.6M201.1,178.2l7.7,5.1M166.8,195.1l-4.8,8.1M210.0,224.1l6.3,1.3M156.7,201.7l-3.8,6.5M165.2,221.2l5.9,6.9M202.1,164.1l7.1,3.7M201.2,172.6l-8.9,2.9M196.2,161.1l-4.2,8.3M223.5,229.8l-4.6,6.2M195.5,212.7l-2.9,8.5M191.2,224.4l3.5,3.0M178.7,164.4l-5.0,3.6M194.8,192.7l-5.2,2.9M228.6,205.1l5.1,2.4M224.3,211.9l-1.5,8.7M232.6,214.6l5.0,1.8M176.2,183.4l3.8,6.4M200.3,241.6l7.2,5.5M203.3,174.7l8.6,0.8M226.5,209.0l1.0,4.3M170.8,174.8l-1.7,6.2M158.4,199.9l7.0,6.0M238.8,204.1l-5.9,0.7M207.6,202.1l0.3,4.8M162.7,213.3l-4.1,5.3M184.5,219.0l1.7,5.4M209.2,238.0l-0.3,6.6M205.7,239.2l4.6,3.2M165.5,191.4l-8.5,0.7M239.0,188.7l-5.4,6.4M209.9,213.1l9.2,0.4M187.6,168.5l4.1,4.5M217.1,235.7l-5.8,0.2M211.7,206.4l4.1,8.4M203.8,176.5l4.4,1.5M217.7,232.8l0.9,9.9M229.3,180.2l0.7,8.9M206.8,212.6l-1.4,6.9M196.8,226.8l9.4,0.6M188.5,163.4l-6.6,0.4M196.6,175.6l-7.5,5.0M196.3,206.9l5.9,4.7M196.6,206.2l-7.5,4.4M190.3,206.4l-6.8,2.5M220.5,212.1l-3.6,8.6M158.3,207.3l4.4,3.3M215.2,188.9l7.1,2.4M209.3,216.0l1.0,7.4M171.0,175.1l0.8,4.3M194.0,192.1l0.6,6.4M175.5,169.5l5.8,5.4M180.7,174.9l8.5,4.1M183.2,195.6l7.3,6.8M203.1,230.4l-7.0,5.5M168.1,176.7l4.5,0.5M233.2,199.3l4.3,0.5M195.4,245.8l6.2,5.1M230.8,189.7l-5.4,1.4M201.0,208.8l-3.3,3.2M229.2,196.8l7.4,4.9M208.4,231.3l8.2,2.8M224.1,178.2l9.1,0.1M158.1,187.8l-0.1,7.7M160.8,182.7l4.2,1.0M172.2,196.8l1.3,3.8M199.5,196.3l-7.6,4.5M182.1,207.2l-2.4,4.7M186.2,211.6l-7.3,0.5M190.7,213.0l-6.0,6.8M202.9,191.3l2.4,5.3M198.9,183.8l-3.2,9.3M194.1,201.3l4.6,1.1M183.9,169.9l-0.4,6.7M169.0,220.4l-4.3,8.5M195.9,164.8l-8.7,2.4M196.7,194.0l-4.9,7.7M154.0,220.5l8.2,5.2M158.9,216.8l4.1,4.1M178.0,225.2l6.4,2.0M235.8,200.3l-8.4,1.8M220.9,165.6l-4.0,4.0M193.3,233.9l5.4,0.4M225.9,173.8l4.4,7.4M205.3,161.9l-5.7,4.3M225.7,227.0l4.3,6.5M176.5,229.4l-4.9,0.5M161.3,193.8l-1.2,9.6M163.1,224.8l-5.5,8.1M210.3,212.7l5.8,7.4M221.6,203.6l-6.2,7.7M211.3,228.5l-4.5,6.8M193.0,164.9l3.9,3.9M230.1,210.2l4.4,3.4M231.8,193.8l-2.2,7.6M164.3,182.3l2.5,3.6M199.8,205.5l2.0,4.4M223.7,225.5l-8.1,0.8M188.2,242.9l3.9,2.4M188.4,229.6l-3.7,5.5M197.0,191.3l-5.9,1.3M202.1,197.3l-4.6,2.7M221.8,171.6l-2.9,4.9M217.6,206.0l-4.7,1.5M178.7,174.6l-2.5,4.4M207.6,216.2l-6.3,0.3M174.9,176.6l3.4,2.8M232.3,207.4l9.0,3.9M167.2,232.3l7.9,3.7M195.8,230.1l-0.3,4.7M194.4,242.7l3.9,4.9M195.7,183.0l4.4,3.0M177.3,220.3l-2.9,6.2M205.0,194.3l-4.4,7.9M196.2,210.8l0.9,4.6M157.3,214.2l4.5,1.4M175.0,205.7l5.0,4.4M203.0,210.3l2.9,6.2M223.8,192.0l5.2,1.2M199.2,170.2l-9.0,3.9M208.7,193.4l-7.0,1.3M199.5,222.8l-4.8,2.2M219.1,216.1l-6.6,1.6M194.0,190.5l0.9,5.8M204.9,238.2l2.0,4.3M224.9,201.3l3.4,2.2M174.2,179.1l6.8,0.5M191.4,170.6l5.2,4.7M163.6,181.6l7.9,3.9M234.8,191.3l-5.6,2.7M208.6,192.1l5.7,5.0M204.6,196.8l3.3,2.7M176.9,209.3l7.0,4.8M157.3,180.1l2.4,7.7M236.5,206.6l5.1,4.6M152.6,197.4l0.2,9.9M183.2,189.9l-4.5,2.6M222.3,202.2l7.4,6.4M181.6,227.5l3.8,7.1M218.9,207.2l7.8,4.4M228.3,203.1l4.6,4.9M158.7,190.1l4.9,2.3M225.4,234.4l4.3,2.2M164.3,200.0l-4.1,1.5M198.6,220.4l-1.8,6.5M162.9,224.2l-4.5,8.0M221.3,198.7l-6.3,1.2M234.3,218.4l3.9,1.3M194.6,228.2l-9.2,1.0M171.5,219.1l-7.9,4.0M175.2,178.3l5.1,2.0M181.1,174.2l-7.6,5.5M210.3,199.8l9.1,2.2M180.3,195.1l-3.1,4.6M198.5,228.3l-0.6,8.0M231.5,219.4l-2.6,6.3M173.8,170.3l6.8,0.2M180.6,169.5l-2.3,4.5M231.6,193.1l4.9,4.4M214.1,195.5l2.8,9.4M215.3,190.6l-4.1,4.6M173.3,171.1l4.9,2.1M198.5,227.6l4.8,0.5M168.3,220.6l7.3,1.8M225.7,189.8l3.6,7.4M178.6,210.6l0.2,4.1M185.9,185.1l3.9,9.0M201.9,161.5l-3.4,7.0M180.2,161.0l7.0,5.0M192.1,224.8l-6.4,4.0M221.0,169.3l-1.4,5.0M230.1,206.4l-3.7,4.3M195.2,204.7l7.0,4.2M214.5,203.0l5.6,6.1M197.6,203.3l9.0,3.4M211.0,199.2l3.5,6.2M183.4,228.7l0.4,5.5M206.0,208.8l4.0,2.2M166.5,176.2l5.9,6.4M192.4,177.2l0.1,5.1M223.5,190.7l4.9,0.8M187.9,177.6l-3.4,4.2M203.9,166.3l7.2,2.2M213.0,237.9l-7.1,5.1M199.3,215.8l-3.6,6.4M209.1,218.2l-1.2,4.5M179.1,186.8l4.5,4.7M154.7,197.3l8.3,0.8M202.0,225.4l-3.5,7.4M161.8,175.9l4.7,3.5M181.7,184.9l4.7,2.5M204.4,161.6l-6.1,7.6M200.4,178.2l4.6,7.0M226.5,216.8l4.1,1.2M183.2,203.0l-9.1,2.0M173.4,208.9l6.5,2.6M171.6,199.1l-4.5,5.6M195.1,190.5l6.2,1.4M175.0,205.5l-2.7,4.6M185.8,230.1l-5.3,6.8M180.0,225.9l-9.4,2.2M184.8,191.8l1.1,7.7M199.1,213.7l-9.4,0.6M217.9,224.8l-2.1,5.4M233.4,219.4l-5.0,4.4M215.2,218.4l9.4,2.8M220.3,211.5l-3.6,3.2M202.0,211.1l6.3,3.5M201.4,187.4l7.3,4.5M170.3,216.1l5.1,2.1M208.0,199.7l5.8,6.1M228.4,174.0l0.8,9.7M176.5,186.8l0.9,8.2M190.3,186.8l8.0,5.6M226.0,228.1l2.7,4.8M197.4,235.9l-4.9,0.1M207.7,183.3l7.3,4.4M184.3,217.3l2.3,8.6M213.6,179.8l8.6,0.3M165.8,178.9l-5.9,0.9M217.2,170.4l4.2,4.6M176.4,222.1l1.7,4.3M200.9,243.7l2.2,7.5M221.9,177.0l6.8,6.6M213.5,160.5l-5.6,6.4M206.0,182.1l-3.0,5.5M205.0,188.8l-0.7,6.0M211.1,179.7l-8.0,4.3M212.1,193.2l-8.3,1.6M175.4,172.6l9.1,1.4M165.1,192.8l4.2,7.6M201.9,163.0l4.7,3.8M194.9,217.8l2.1,3.6M199.9,184.7l4.3,1.0M194.4,182.5l0.8,6.4M207.8,161.1l4.4,6.4M224.0,185.4l-8.0,2.6M180.7,241.8l-1.1,4.5M161.5,180.9l-0.4,6.9M161.1,224.2l-2.6,4.6M182.6,225.4l-8.1,1.1M222.3,235.1l7.5,0.8M161.1,218.8l1.0,4.4M158.5,197.6l-4.8,3.8M204.7,241.8l-4.3,3.1M228.2,172.7l1.3,6.1M182.8,162.2l4.7,3.4M174.7,237.0l6.1,4.0M155.1,203.3l8.8,4.2M231.3,204.0l-4.1,3.1M227.2,184.7l-6.7,6.3M166.6,236.9l3.3,2.5M158.3,203.4l-9.3,3.0M153.5,200.2l-0.9,4.8M167.9,172.5l1.8,7.4M193.7,225.4l1.8,6.9M179.6,208.1l6.0,0.1M185.9,166.0l4.1,3.8M178.9,199.1l-3.0,8.9M208.7,234.7l-5.4,6.5M184.1,165.6l5.9,6.8M208.3,200.3l-6.6,1.2M209.2,209.2l-6.5,4.8M216.9,224.5l-4.2,9.1M174.0,237.1l3.7,3.6M212.0,227.0l-2.1,5.4M204.3,222.5l5.0,1.4M180.3,232.6l5.8,3.8M154.9,216.9l0.4,9.7M177.1,206.7l-1.4,4.7M204.7,212.1l-5.8,7.9M173.4,217.6l1.4,5.9M181.7,177.4l8.2,4.2M196.4,202.0l-7.5,3.8M177.4,232.7l-6.2,1.6M174.4,211.6l-1.4,7.9M189.1,161.0l5.6,2.7M220.6,169.8l-2.3,7.7M173.2,238.8l-1.0,6.3M206.3,217.9l-8.4,2.8M220.6,206.3l0.4,7.0M166.7,234.1l3.3,6.4M227.8,187.2l0.4,6.0M171.7,226.4l-4.4,3.5M174.9,221.3l4.0,8.6M171.0,196.0l4.5,7.7M213.1,236.6l5.1,0.4M230.7,218.9l4.8,2.4M220.1,210.5l-5.6,6.2M233.3,177.7l-1.5,9.4M231.6,225.8l1.1,5.0M194.6,162.1l1.6,4.3M224.3,173.1l-3.0,9.4M204.2,207.2l3.8,1.6M184.4,170.5l4.7,1.7M213.0,232.8l-5.1,8.4M167.0,236.2l1.3,6.2M200.4,226.6l-9.9,0.8M188.7,186.3l4.1,2.6M169.7,235.6l7.1,1.3M191.6,193.8l1.7,8.6M172.9,190.4l-7.1,2.8M185.9,228.6l-9.0,1.6M222.3,187.4l4.6,2.2M164.0,230.2l8.8,0.1M198.7,174.3l8.8,0.2M165.6,220.1l-1.8,8.2M164.0,228.5l-9.5,1.3M176.1,186.3l2.1,5.2M232.0,180.2l-7.0,5.5M230.4,199.8l4.6,7.2M189.2,238.0l8.0,4.4M174.8,206.6l-4.4,1.1M227.1,187.1l7.6,3.9M158.8,183.5l-1.8,6.3M209.7,198.7l-3.5,3.0M196.5,219.0l-6.1,2.6M195.2,180.2l-5.2,5.9M223.2,221.5l-3.4,4.1M180.7,181.8l3.8,8.7M236.7,186.3l1.7,7.2M209.2,164.8l1.3,9.1M160.4,228.4l0.4,4.7M197.0,186.7l-2.3,3.7M230.2,201.4l-3.3,3.5M174.9,181.7l6.3,6.3M221.6,210.7l8.8,2.5M202.0,197.0l0.8,6.8M186.2,164.0l4.5,8.5M204.4,219.3l-3.9,2.6M207.0,232.3l2.5,4.3M225.8,190.7l-4.3,3.4M217.4,193.5l-7.3,2.2M235.8,195.1l-2.9,6.6M209.5,180.6l9.0,2.9M210.4,169.0l-3.7,3.9M161.3,214.2l-9.5,1.1M216.1,233.5l-1.1,6.3M203.7,216.4l0.6,6.9M193.6,228.1l-1.4,8.4M183.6,194.9l-5.8,2.2" stroke="#3fbcd9" stroke-width="1.05" stroke-linecap="round"/></g>
<g clip-path="url(#cSph)"><path d="M236.4,193.8l3.4,1.6M222.8,198.4l-0.4,2.9M214.2,208.5l2.6,1.1M175.2,181.2l-4.0,0.7M168.8,236.5l-1.5,3.3M218.5,176.4l1.6,3.5M180.7,245.0l3.5,3.4M200.1,205.9l-0.4,2.6M182.5,203.8l-3.5,2.0M180.9,166.7l-4.0,0.1M193.9,203.4l3.2,0.5M220.3,199.8l-0.4,2.0M160.4,224.5l-1.2,4.3M213.7,205.9l3.8,2.4M228.5,229.1l3.1,3.5M172.6,202.9l-3.2,0.3M194.3,193.4l-4.3,2.5M224.3,228.9l1.6,1.8M174.8,232.1l-4.9,0.7M231.2,203.0l-1.2,2.2M190.0,171.1l2.0,4.2M194.3,221.5l2.2,1.2M160.9,183.9l3.1,1.7M166.0,188.9l1.0,3.5M206.1,205.2l0.7,2.6M198.0,183.2l-2.3,1.4M220.8,220.8l1.0,2.8M199.0,182.9l-2.3,3.9M167.9,214.2l-3.7,0.9M199.3,215.6l2.9,0.8M225.6,222.9l0.7,2.8M152.6,201.4l1.8,1.7M189.3,228.5l-4.0,1.2M178.6,213.1l2.3,0.3M214.6,175.6l3.4,1.8M224.6,215.7l1.1,2.0M194.2,167.0l-0.1,2.5M182.4,179.2l-1.1,2.0M196.8,203.0l2.4,2.1M201.4,215.8l-2.8,4.1M185.0,223.9l-1.4,2.3M166.0,225.6l0.5,2.4M227.6,219.3l-4.8,0.1M221.1,222.5l0.1,2.6M182.1,177.6l-2.4,1.6M232.1,188.3l0.2,2.4M181.4,205.4l-2.3,3.4M155.5,184.7l4.1,0.6M200.0,190.5l1.1,1.8M162.5,185.0l1.9,3.6M169.5,231.2l3.2,3.8M191.5,205.9l4.0,1.2M217.0,178.0l4.1,2.2M192.1,189.0l1.5,3.7M203.9,203.6l2.1,4.1M222.8,204.3l-4.2,1.2M220.2,180.0l-3.9,0.4M225.8,193.8l2.9,2.1M169.8,206.6l1.4,3.3M177.1,193.3l2.3,2.7M168.1,203.7l-1.3,2.2M174.8,199.6l-3.1,2.7M200.3,172.8l3.4,3.4M168.0,202.4l2.0,2.5M185.6,164.9l0.2,4.2M202.1,233.0l1.3,2.6M172.5,234.1l-1.8,1.9M200.8,242.5l-1.9,3.6M171.0,177.2l1.4,1.6M192.6,211.4l-3.5,0.4M176.2,166.8l-2.2,1.5M190.1,216.6l-3.4,2.5M168.1,206.3l2.3,2.6M188.1,164.0l-4.1,2.1M168.0,214.1l2.7,4.1M201.5,219.6l3.0,3.7M213.2,184.2l-4.2,2.1M179.8,213.0l-2.4,2.0M226.2,232.4l0.6,3.1M176.0,192.9l3.2,0.2M191.7,206.7l1.7,3.9M178.3,235.8l-1.0,2.4M232.2,208.8l-1.0,2.7M209.7,243.8l-2.6,0.8M166.7,187.4l1.1,1.8M180.4,235.3l-1.1,3.4M209.6,218.3l1.8,2.7M166.3,236.3l4.6,1.8M197.0,244.8l2.7,2.6M191.5,210.2l-3.6,2.6M191.1,241.5l0.3,5.0M220.0,213.3l2.9,2.5M203.2,164.2l-0.5,3.1M198.8,190.4l2.9,3.1M153.5,221.1l3.2,1.0M195.3,207.2l2.2,0.7M176.3,225.3l-0.1,2.9M187.8,175.2l-2.5,0.1M164.2,201.3l1.8,4.2M205.6,244.0l1.3,2.7M170.4,182.8l1.4,1.8M219.7,197.4l3.7,1.4M170.1,198.5l2.3,3.9M182.4,229.4l-3.1,0.4M182.4,214.0l-2.0,3.5M167.8,213.3l3.3,2.9M156.4,214.2l1.6,3.9M218.2,209.0l-4.0,0.5M181.8,176.5l0.2,2.6M213.1,235.6l-1.6,2.3M186.4,191.5l-0.9,2.4M171.5,202.8l-0.4,2.4M160.2,208.5l2.7,1.2M182.6,174.2l-1.6,4.1M176.8,194.3l0.8,4.4M160.3,188.4l1.4,3.0M235.6,196.9l-1.1,2.1M192.2,199.8l-4.8,1.0M193.9,182.4l-2.2,1.2M208.5,177.4l4.7,0.2M159.6,218.8l-2.0,3.0M210.2,189.9l-2.9,0.9M220.0,209.4l2.2,0.5M183.8,194.1l2.5,1.4M190.5,246.3l-4.4,1.4M226.2,202.8l-2.3,1.7M232.3,186.8l-1.8,2.0M231.7,226.6l-0.6,3.8M207.7,191.4l-2.0,2.7M200.6,175.1l4.0,2.8M189.7,242.1l-2.4,1.4M185.5,178.6l2.0,1.7M221.5,196.1l-0.1,3.5M235.2,210.2l-3.2,3.3M182.4,219.4l1.9,3.7M180.7,180.8l-0.2,2.5M222.3,188.5l-0.1,4.4M206.9,238.9l2.0,4.0M215.8,216.8l-1.4,3.1M170.7,227.8l2.6,2.1M233.7,204.4l3.1,3.2M164.0,193.4l-0.9,2.2M201.9,181.2l-4.0,1.8M178.2,167.8l0.8,3.9M212.7,199.4l3.1,1.0M177.2,203.0l3.5,2.9M181.4,215.5l3.1,2.0M207.3,232.0l-0.4,3.3M153.3,204.4l4.8,0.3M200.0,212.4l-2.8,2.5M177.1,199.7l-2.3,1.9M193.3,182.8l-0.9,3.8M172.9,227.1l3.8,0.8M190.0,187.4l-0.7,4.1M229.3,229.0l-2.0,0.9M195.2,217.5l1.6,1.6M172.9,205.6l2.0,2.7M169.6,232.8l-1.5,1.8M196.0,208.4l1.2,2.0M184.5,168.7l-2.6,0.0M232.5,211.9l1.3,4.6M174.3,220.3l4.7,1.1M166.4,201.2l0.8,4.2M209.3,178.1l2.7,1.7M218.6,186.2l-1.8,3.2M162.2,212.2l2.6,2.6M203.2,194.0l1.9,4.3M201.7,203.0l-1.5,3.6M211.2,179.8l2.7,1.2M185.6,167.8l3.1,2.4M174.5,175.7l3.3,0.2M179.9,234.8l1.2,2.1M185.7,183.9l-2.3,1.8M156.0,193.5l3.9,1.5M232.6,223.0l4.2,0.3M182.7,217.5l1.1,3.3M182.8,211.9l-0.2,2.9M222.3,198.6l0.5,2.6M221.4,198.6l-2.0,4.0M165.2,228.4l1.5,1.8M225.6,212.7l-2.4,1.0M159.3,218.6l1.6,1.9M169.7,201.6l-4.6,0.9M198.1,237.3l0.5,2.0M155.3,218.4l2.2,3.1M194.3,194.5l-2.3,0.5M182.5,240.7l3.1,0.2M215.9,227.1l2.5,0.1M196.8,217.5l2.5,0.7M181.1,202.8l-2.8,1.7M196.6,226.6l-1.9,1.0M196.8,191.5l-3.2,0.6M161.4,181.6l2.1,0.7M185.1,172.8l-1.8,2.2M176.6,204.5l0.6,2.8M174.0,191.7l2.6,3.0M229.7,224.3l0.0,2.7M219.5,224.2l-0.1,4.2M177.4,225.2l-2.7,0.9M239.6,200.5l-4.8,0.1M194.6,243.9l-0.9,2.5M232.8,203.9l-3.0,2.1M230.6,224.4l2.4,1.5M181.2,190.5l0.5,4.1M223.7,225.2l3.2,1.1M173.1,175.9l2.5,0.3M222.2,197.2l0.7,3.0M184.1,168.4l-1.5,2.9M165.3,190.8l4.0,2.7M235.5,197.0l-3.4,0.1M208.8,185.7l-2.9,3.0M234.4,189.9l-2.6,1.0M202.1,174.7l1.7,2.6M209.9,166.1l-3.5,1.9M204.5,219.4l-0.6,2.6M186.8,216.6l3.7,1.9M201.4,243.5l2.3,3.9M188.2,226.1l0.7,1.9M168.7,216.1l4.6,0.2M196.6,206.0l-2.7,0.3M193.8,211.7l3.9,1.3M167.7,189.1l2.0,2.0M224.6,200.4l-4.7,0.2M222.6,233.9l4.1,0.3M209.7,169.2l-0.7,4.4M213.1,231.0l2.1,2.4M209.7,237.9l-1.0,4.2M174.5,180.4l-4.3,1.1M174.5,194.9l-3.0,0.7M217.7,218.8l-2.9,3.8M176.2,176.7l-4.2,0.8M168.8,214.5l-2.2,2.0M223.7,226.8l-2.3,1.6M178.0,167.0l2.2,0.9M172.9,206.2l-4.9,0.8M159.5,217.5l-1.0,2.3M212.4,201.9l3.3,0.8M225.6,206.6l1.3,4.7M162.6,225.2l-2.9,2.4M197.7,228.1l0.1,3.2M175.8,179.1l2.0,3.2M215.2,204.2l1.0,1.8M204.0,209.1l1.1,4.4M183.6,163.6l-3.3,1.8M191.1,201.8l1.0,2.6M187.9,196.2l-0.4,3.1M166.0,206.2l4.0,1.3M204.7,172.5l3.5,1.4M226.8,173.1l-1.6,1.5M220.3,178.9l3.1,3.6M213.7,167.2l2.7,2.6M180.0,220.7l-2.8,2.6M181.8,233.3l-3.6,0.8M225.3,188.4l-2.1,0.1M165.8,211.8l-3.2,3.7M174.9,182.6l-1.5,3.3M182.5,164.3l3.0,0.1M204.4,197.3l-1.7,1.3M171.2,172.9l2.3,2.1M201.5,240.1l-0.3,3.8M182.7,235.2l-4.3,0.6M216.9,197.4l-0.2,3.2M171.9,237.0l3.1,1.9M200.9,163.3l2.8,0.2M151.4,206.2l3.9,2.2M171.0,224.9l-2.1,0.5M186.3,220.2l2.7,1.2M183.6,172.7l4.1,1.6M181.2,203.5l-3.8,2.4M205.9,246.5l-2.2,1.5M237.9,205.2l-2.0,1.2M200.8,165.0l-1.8,4.1M223.0,201.9l-4.1,2.4M183.0,237.1l-2.5,3.8M173.5,194.8l2.6,2.6M224.1,235.7l-2.6,0.9M182.1,170.6l4.0,1.6M197.0,180.8l2.7,0.9M201.0,175.0l-2.1,1.4M217.4,221.2l-2.3,0.9M228.2,221.9l3.8,1.1M216.0,214.4l-2.3,4.0M169.6,221.3l3.0,0.3M199.2,242.8l-2.7,3.4M158.4,197.6l2.9,1.2M190.6,227.1l-1.8,1.9M187.0,225.5l-3.6,1.6M171.3,208.2l-4.7,1.2M165.7,215.2l-2.5,1.2M195.1,217.5l-0.0,4.3M213.7,229.5l-3.4,0.1M167.6,232.1l-3.0,1.0M222.6,228.4l-3.3,3.5M182.9,183.5l-0.1,2.9M169.8,214.9l-4.5,1.3M224.3,191.8l-2.4,0.3M228.4,188.1l-3.0,1.3M204.8,204.1l-4.0,2.1M166.0,232.6l3.3,2.6M166.4,209.8l3.6,2.5M195.7,192.4l-2.7,0.2M176.4,223.2l-1.1,4.5M228.4,192.6l1.0,2.1M225.1,217.2l-0.9,3.2M223.3,200.9l1.5,2.9M216.5,241.3l-1.0,3.5M175.3,213.9l1.9,2.9M155.1,218.6l-0.5,2.6M211.5,209.4l2.0,3.8M213.6,190.7l-2.6,2.1M163.6,197.9l2.2,0.3M176.9,171.6l1.7,4.4M204.4,183.2l3.6,0.8M182.4,188.1l3.4,0.5M233.3,212.2l-1.1,2.6M174.8,211.9l2.1,1.4M208.7,177.2l-1.9,2.4M208.5,172.3l-1.5,2.8M180.1,198.1l-4.0,0.3M160.0,197.9l2.9,0.9M199.1,245.5l3.3,0.1M223.2,175.8l-1.8,2.2M198.8,240.5l2.5,3.4M173.9,234.4l-1.0,4.3M223.9,203.0l-2.0,0.1M201.6,198.6l-0.4,3.1M197.2,179.7l3.5,2.6M159.5,192.6l0.1,2.1M198.5,184.1l0.2,2.0M195.3,240.0l-2.9,2.6M161.3,217.5l-1.3,2.3M163.6,197.1l-1.7,2.0M184.8,229.0l2.9,0.9M189.8,171.3l3.6,2.2M223.2,230.5l2.0,1.0M194.0,235.3l3.1,3.5M219.0,195.2l-2.9,2.9M177.7,196.8l-4.8,0.8M220.4,206.5l1.4,2.2M155.9,223.0l4.5,0.3M195.4,209.8l-2.7,0.9M199.0,219.0l1.0,2.2M205.7,223.8l-0.8,3.2M186.7,234.2l-3.2,2.7M174.0,239.5l-2.9,2.2M168.8,208.4l4.2,1.9M187.4,196.3l-4.5,1.1M230.6,212.0l2.6,2.5M209.0,181.0l0.0,4.0M207.7,235.7l1.2,4.8M208.7,239.6l2.8,0.4M208.6,215.7l-0.2,2.5M200.6,190.3l-1.7,4.2M211.5,219.0l-2.5,2.3M218.4,192.6l1.5,4.6M173.1,241.0l-2.4,0.9M152.8,192.6l4.2,1.6M202.0,166.8l-0.7,2.2M211.1,200.6l-3.2,2.6M180.3,236.6l1.2,4.1M236.1,214.9l1.6,4.1M155.8,211.1l2.1,2.9M224.1,209.8l4.4,1.1M185.7,179.6l-4.8,0.4M209.3,200.4l-2.5,3.4M193.2,201.7l-3.2,0.8M162.4,182.4l1.4,1.6M215.0,194.7l2.4,0.3M232.8,203.5l1.9,1.5M224.9,182.8l-0.6,2.3M157.7,227.7l3.3,0.0M234.8,220.1l4.6,1.6M214.3,173.6l4.1,0.5M163.5,206.1l3.2,1.6M202.5,189.8l-3.0,1.2M193.5,225.0l0.5,3.9M158.4,186.1l-0.1,3.5M214.8,204.0l3.0,0.2M189.6,218.8l0.5,2.0M224.7,190.1l-3.8,1.5M189.8,165.8l2.4,3.4M205.5,235.0l-1.3,4.1M210.5,226.8l-3.8,2.3M210.0,202.7l1.8,1.4M190.6,166.1l-1.9,3.9M165.0,201.7l-3.8,1.0M177.1,175.3l0.1,4.3M181.3,197.0l0.8,3.2M165.2,217.7l1.3,2.9M173.0,217.3l-2.3,0.2M232.5,207.9l1.1,3.2M172.8,190.3l1.5,1.4M224.8,173.8l2.1,2.7M193.3,214.3l-4.3,1.5M198.4,225.9l-2.6,3.6M167.4,209.2l3.3,2.9M220.8,174.0l3.5,1.3M232.8,200.8l0.3,2.4M228.7,219.0l4.3,0.9M182.9,178.6l-4.5,1.6M186.0,194.6l-0.9,3.1M196.8,247.0l-1.6,1.8M199.6,229.6l-0.7,2.9M157.3,219.1l3.5,2.2M176.6,242.7l-2.9,0.4M183.9,194.6l1.1,3.7M178.1,185.7l2.4,0.3M177.9,197.2l2.2,3.2M220.2,185.7l2.6,2.7M188.4,243.3l2.5,1.3M155.9,220.6l2.2,1.3M208.9,219.1l1.6,2.8M197.5,176.0l0.2,3.2M201.7,161.9l1.1,4.6M195.9,247.0l-0.3,4.0M176.9,220.1l4.2,1.9M172.3,232.1l0.4,3.6M199.9,221.6l2.0,3.5M194.8,203.6l-2.0,2.6M214.5,213.5l3.5,2.8M171.0,196.7l2.0,2.0M192.8,229.6l-3.5,2.7M183.2,165.3l-1.1,2.1M211.8,209.1l2.5,2.6M210.3,173.9l0.6,2.7M233.3,200.2l1.0,1.9M219.1,202.4l-2.1,1.1M182.2,183.5l-2.7,1.0M213.7,215.7l-4.0,2.8M172.4,176.0l1.8,2.2M231.3,227.9l3.8,0.5M184.3,218.5l1.0,4.7M196.9,221.5l-1.6,3.6M178.4,203.8l-2.2,0.9M205.9,223.0l-0.1,3.4M162.1,192.5l-3.2,1.1M233.1,215.9l2.9,0.2M218.1,231.5l-1.8,1.5M185.4,243.6l-1.3,1.9M180.3,168.2l0.7,2.4M181.3,184.1l2.3,1.0M182.4,212.8l1.3,3.4M170.3,195.8l-1.8,1.3M177.6,241.8l-4.3,2.0M200.4,172.3l-2.9,2.3M210.1,219.8l4.4,1.4M183.8,229.6l-0.3,2.3M187.0,166.4l-3.7,2.8M190.5,219.4l-3.0,2.8M176.1,223.1l4.0,2.1M156.7,213.9l1.4,2.6M159.5,201.8l-2.9,1.1M188.1,178.4l-3.9,1.8M169.5,194.7l3.0,3.5M202.3,182.1l2.5,0.7M205.9,202.5l-3.0,2.0M164.9,193.0l1.0,3.5M230.4,227.7l2.3,0.8M181.1,173.2l-3.3,2.3M203.6,201.2l2.7,0.1M199.2,186.4l-0.4,4.3M215.7,231.4l-4.0,1.3M169.9,221.8l3.1,3.7M202.1,168.3l2.4,3.4M155.8,206.7l1.9,4.2M184.5,176.3l-0.9,4.3M151.2,197.6l4.7,0.1M190.1,174.9l-2.2,1.1M177.8,236.4l-2.7,1.6M230.1,204.0l2.3,0.3M224.6,219.7l1.5,2.4M186.4,208.8l-4.3,1.3M167.5,193.4l2.2,3.1M173.1,240.9l-4.1,0.6M200.0,194.2l2.8,1.2M218.2,225.8l-4.5,0.2M215.1,199.5l1.6,1.3M194.5,214.4l-0.3,2.9M181.1,174.9l-0.9,2.8M193.5,167.8l-2.1,2.7M171.3,210.6l3.4,0.4M183.9,191.9l-4.2,2.0M219.9,172.6l0.1,2.5M192.1,242.9l-2.3,0.1M221.2,204.8l1.7,3.4M225.5,229.7l2.3,4.1M182.2,225.6l4.2,2.6M160.3,183.8l3.6,0.7M192.4,161.9l-2.3,0.5M165.4,234.5l-0.5,4.8M197.1,212.3l-2.8,0.5M172.0,193.3l-1.2,4.7M233.3,190.4l3.1,3.2M225.5,208.5l-2.7,0.5M171.8,229.0l3.0,2.8M189.2,194.1l-2.1,0.5M186.3,180.5l2.0,1.0M235.0,202.8l0.6,4.3M237.6,196.1l-0.3,2.8M153.9,198.9l-2.7,3.0" stroke="#5ccfe8" stroke-width="0.6" stroke-linecap="round" opacity="0.8"/></g>
<circle cx="195.9" cy="205.5" r="44.5" fill="url(#gSphShade)"/>
<path d="M220.1,168.9l1.2,-1.4M209.8,247.6l1.4,0.1M157.0,185.7l-0.1,-1.3M213.3,245.8l0.2,1.3M239.5,206.3l0.8,0.5M194.4,249.8l-1.5,1.1M215.8,244.2l-0.2,1.5M167.2,238.2l-0.6,0.9M158.0,182.1l-0.9,0.2M181.0,164.5l-1.1,-0.7M239.6,201.7l1.2,-0.7M218.9,242.9l0.1,1.2M208.4,163.7l-1.0,-1.2M153.4,218.4l-0.5,1.6M174.7,167.1l-1.5,-0.2M198.2,161.6l-0.0,-1.6M161.9,177.6l-1.3,0.1M153.7,191.8l-0.0,-1.5M175.2,244.0l-1.2,1.2M196.5,249.7l-1.2,0.4M236.6,189.0l1.8,-0.0M208.6,247.5l-0.7,0.5M180.7,246.8l-1.3,0.9M235.8,186.6l-0.1,-0.9M238.7,215.5l0.8,-1.2M166.5,173.2l0.2,-1.3M238.4,194.6l1.4,0.1M192.3,249.6l1.0,0.4M176.8,245.6l-0.4,0.8M182.5,247.5l-0.8,0.4M203.9,162.4l0.3,-1.3M154.7,222.3l-1.5,-1.2M191.9,161.5l-0.7,-0.5M217.4,166.9l0.9,-0.8M191.1,249.7l-0.2,0.8M172.3,242.5l1.0,1.7M232.2,180.1l-0.4,-1.3M229.7,234.0l0.2,1.7M207.2,163.4l-0.7,-0.5M220.2,168.4l0.6,-0.9M223.1,171.4l0.2,-0.8M239.6,200.8l1.5,1.0M157.1,183.8l-0.7,-1.8M238.3,195.6l1.0,0.4M176.1,244.6l-0.9,-0.1M155.9,222.9l-0.9,-1.0M182.8,163.5l0.4,-1.1M158.0,228.4l-1.9,0.1M179.8,246.8l-1.2,0.8M159.0,229.5l0.1,0.9M179.5,245.9l1.1,1.2M190.7,161.7l-1.3,-1.1M216.1,166.3l-0.3,-1.4M161.4,232.4l-0.1,1.8M166.0,172.7l-1.1,-0.0M152.4,202.9l-1.3,0.6M151.8,210.6l-1.6,-0.1M157.8,182.9l-0.8,-0.2M239.9,200.1l0.5,-0.8M203.6,249.0l0.7,0.4M152.4,207.1l-1.0,0.8M208.0,247.3l0.8,0.7M176.2,244.7l-0.1,1.2M239.9,210.8l1.0,0.9M239.6,206.3l0.7,1.1M208.2,248.1l-0.6,0.7M151.8,205.2l-0.7,1.0M163.4,175.6l-0.7,-1.4M164.5,235.7l0.7,1.7M225.2,172.2l-0.6,-1.6M216.6,244.2l1.7,0.6M214.5,165.3l0.3,-1.9M193.1,249.5l-0.5,0.9M163.8,235.0l-1.0,0.0M224.6,238.5l0.6,1.5M152.1,198.6l-0.7,-0.7M153.3,196.1l-0.9,0.4M234.7,225.9l0.2,1.6M233.1,228.4l1.0,1.0M238.9,212.8l1.4,0.5M234.6,226.9l1.5,-0.2M152.8,197.4l-0.3,-1.2M156.9,225.9l-1.9,-0.7M201.3,161.8l1.0,-1.2M238.9,194.2l1.0,0.4M156.0,187.2l-1.7,0.4M203.9,249.0l0.3,1.3M184.0,162.9l1.6,-1.2M209.4,163.9l0.9,-1.0M236.8,189.4l0.6,-0.6" stroke="#34aecb" stroke-width="0.6" stroke-linecap="round" opacity="0.7"/></g>
<g id="pb"><text x="242.3" y="25.5" font-size="20" stroke="#111" stroke-width="0.22">b</text>
<circle cx="305.5" cy="46.1" r="10.2" fill="url(#sGray)" stroke="#8a8a8a" stroke-width="0.8"/>
<circle cx="305.6" cy="65.8" r="10.2" fill="url(#sRed)" stroke="#8e545c" stroke-width="0.8"/>
<circle cx="307.8" cy="42.6" r="1.8" fill="#fff"/><circle cx="307.8" cy="62.3" r="1.8" fill="#fff"/>
<ellipse cx="305.5" cy="55.8" rx="8" ry="2.2" fill="#e02838" opacity="0.75"/><ellipse cx="305.5" cy="55.8" rx="4" ry="1.5" fill="#e01830"/>
<path d="M287.3,61.9 Q305,50.5 320.8,60.0" stroke="#111" stroke-width="0.9" fill="none"/>
<circle cx="287.3" cy="61.9" r="1.4" fill="#111"/><path d="M323,61.8 L319.2,61.5 L321.2,58.6 Z" fill="#111"/>
<text x="264.9" y="61.3" font-size="10.5" fill="#222" stroke="#222" stroke-width="0.22">Zn<tspan font-size="7.8" dy="-4">2+</tspan></text>
<text x="259.2" y="88.2" font-size="10.2" fill="#222" stroke="#222" stroke-width="0.22">Friction-assisted</text>
<text x="296.7" y="100.6" font-size="10" text-anchor="middle" fill="#222" stroke="#222" stroke-width="0.22">strategy</text>
<path d="M357.6,26.5L355.6,24.0" stroke="#b0b0d8" stroke-width="0.8"/><path d="M355.6,24.0L353.5,21.5" stroke="#e0e070" stroke-width="0.8"/><path d="M357.6,26.5L355.6,29.2" stroke="#b0b0d8" stroke-width="0.8"/><path d="M355.6,29.2L353.5,32.0" stroke="#e0e070" stroke-width="0.8"/><path d="M357.6,26.5L359.7,24.0" stroke="#b0b0d8" stroke-width="0.8"/><path d="M359.7,24.0L361.7,21.5" stroke="#e0e070" stroke-width="0.8"/><path d="M357.6,26.5L359.7,29.2" stroke="#b0b0d8" stroke-width="0.8"/><path d="M359.7,29.2L361.7,32.0" stroke="#e0e070" stroke-width="0.8"/><path d="M366.0,26.5L363.9,24.0" stroke="#b0b0d8" stroke-width="0.8"/><path d="M363.9,24.0L361.9,21.5" stroke="#e0e070" stroke-width="0.8"/><path d="M366.0,26.5L363.9,29.2" stroke="#b0b0d8" stroke-width="0.8"/><path d="M363.9,29.2L361.9,32.0" stroke="#e0e070" stroke-width="0.8"/><path d="M366.0,26.5L368.1,24.0" stroke="#b0b0d8" stroke-width="0.8"/><path d="M368.1,24.0L370.1,21.5" stroke="#e0e070" stroke-width="0.8"/><path d="M366.0,26.5L368.1,29.2" stroke="#b0b0d8" stroke-width="0.8"/><path d="M368.1,29.2L370.1,32.0" stroke="#e0e070" stroke-width="0.8"/><path d="M373.8,26.5L371.8,24.0" stroke="#b0b0d8" stroke-width="0.8"/><path d="M371.8,24.0L369.7,21.5" stroke="#e0e070" stroke-width="0.8"/><path d="M373.8,26.5L371.8,29.2" stroke="#b0b0d8" stroke-width="0.8"/><path d="M371.8,29.2L369.7,32.0" stroke="#e0e070" stroke-width="0.8"/><path d="M373.8,26.5L375.9,24.0" stroke="#b0b0d8" stroke-width="0.8"/><path d="M375.9,24.0L377.9,21.5" stroke="#e0e070" stroke-width="0.8"/><path d="M373.8,26.5L375.9,29.2" stroke="#b0b0d8" stroke-width="0.8"/><path d="M375.9,29.2L377.9,32.0" stroke="#e0e070" stroke-width="0.8"/><path d="M382.2,26.5L380.1,24.0" stroke="#b0b0d8" stroke-width="0.8"/><path d="M380.1,24.0L378.1,21.5" stroke="#e0e070" stroke-width="0.8"/><path d="M382.2,26.5L380.1,29.2" stroke="#b0b0d8" stroke-width="0.8"/><path d="M380.1,29.2L378.1,32.0" stroke="#e0e070" stroke-width="0.8"/><path d="M382.2,26.5L384.2,24.0" stroke="#b0b0d8" stroke-width="0.8"/><path d="M384.2,24.0L386.3,21.5" stroke="#e0e070" stroke-width="0.8"/><path d="M382.2,26.5L384.2,29.2" stroke="#b0b0d8" stroke-width="0.8"/><path d="M384.2,29.2L386.3,32.0" stroke="#e0e070" stroke-width="0.8"/><path d="M353.5,26.5L351.6,24.0" stroke="#b0b0d8" stroke-width="0.9"/><path d="M351.6,24.0L349.6,21.5" stroke="#e0e070" stroke-width="0.9"/><path d="M353.5,26.5L351.6,29.2" stroke="#b0b0d8" stroke-width="0.9"/><path d="M351.6,29.2L349.6,32.0" stroke="#e0e070" stroke-width="0.9"/><path d="M386.5,26.5L388.6,24.0" stroke="#b0b0d8" stroke-width="0.9"/><path d="M388.6,24.0L390.6,21.5" stroke="#e0e070" stroke-width="0.9"/><path d="M386.5,26.5L388.6,29.2" stroke="#b0b0d8" stroke-width="0.9"/><path d="M388.6,29.2L390.6,32.0" stroke="#e0e070" stroke-width="0.9"/><line x1="373.8" y1="32.0" x2="373.8" y2="41.0" stroke="#e0a0a0" stroke-width="0.9"/><line x1="373.8" y1="41.0" x2="373.8" y2="84.0" stroke="#e0a0a0" stroke-width="0.8"/><line x1="357.0" y1="42.9" x2="357.0" y2="64.3" stroke="#e0a0a0" stroke-width="0.8"/><line x1="365.4" y1="42.9" x2="365.4" y2="64.3" stroke="#e0a0a0" stroke-width="0.8"/><line x1="373.8" y1="42.9" x2="373.8" y2="64.3" stroke="#e0a0a0" stroke-width="0.8"/><line x1="382.2" y1="42.9" x2="382.2" y2="64.3" stroke="#e0a0a0" stroke-width="0.8"/><line x1="349.6" y1="53.7" x2="390.6" y2="53.7" stroke="#e0a0a0" stroke-width="0.8"/><line x1="365.4" y1="42.9" x2="382.2" y2="42.9" stroke="#e0a0a0" stroke-width="0.8"/><line x1="365.4" y1="74.6" x2="382.2" y2="64.3" stroke="#d8d860" stroke-width="0.8"/><line x1="365.4" y1="64.3" x2="382.2" y2="74.6" stroke="#d8d860" stroke-width="0.8"/><line x1="365.4" y1="74.6" x2="366.0" y2="84.5" stroke="#e0a0a0" stroke-width="0.8"/><line x1="357.4" y1="85.8" x2="373.8" y2="84.8" stroke="#e0a0a0" stroke-width="0.8"/><circle cx="349.6" cy="21.5" r="1.5" fill="url(#atY)"/><circle cx="349.6" cy="32.0" r="1.5" fill="url(#atY)"/><circle cx="358.0" cy="21.5" r="1.5" fill="url(#atY)"/><circle cx="358.0" cy="32.0" r="1.5" fill="url(#atY)"/><circle cx="366.0" cy="21.5" r="1.5" fill="url(#atY)"/><circle cx="366.0" cy="32.0" r="1.5" fill="url(#atY)"/><circle cx="373.8" cy="21.5" r="1.5" fill="url(#atY)"/><circle cx="373.8" cy="32.0" r="1.5" fill="url(#atY)"/><circle cx="382.2" cy="21.5" r="1.5" fill="url(#atY)"/><circle cx="382.2" cy="32.0" r="1.5" fill="url(#atY)"/><circle cx="390.6" cy="21.5" r="1.5" fill="url(#atY)"/><circle cx="390.6" cy="32.0" r="1.5" fill="url(#atY)"/><rect x="354.1" y="23" width="7" height="7" rx="1.6" fill="url(#atP)" stroke="#74749c" stroke-width="0.5"/><circle cx="357.6" cy="26.5" r="1.1" fill="#f4f4ff"/><rect x="362.5" y="23" width="7" height="7" rx="1.6" fill="url(#atP)" stroke="#74749c" stroke-width="0.5"/><circle cx="366.0" cy="26.5" r="1.1" fill="#f4f4ff"/><rect x="370.3" y="23" width="7" height="7" rx="1.6" fill="url(#atP)" stroke="#74749c" stroke-width="0.5"/><circle cx="373.8" cy="26.5" r="1.1" fill="#f4f4ff"/><rect x="378.7" y="23" width="7" height="7" rx="1.6" fill="url(#atP)" stroke="#74749c" stroke-width="0.5"/><circle cx="382.2" cy="26.5" r="1.1" fill="#f4f4ff"/><circle cx="373.8" cy="41.0" r="2.4" fill="url(#atR)"/><circle cx="357.0" cy="42.9" r="1.5" fill="url(#atY)"/><circle cx="365.4" cy="42.9" r="1.5" fill="url(#atY)"/><circle cx="382.2" cy="42.9" r="1.5" fill="url(#atY)"/><circle cx="349.6" cy="53.7" r="1.5" fill="url(#atY)"/><circle cx="390.6" cy="53.7" r="1.5" fill="url(#atY)"/><circle cx="357.0" cy="53.7" r="2.4" fill="url(#atR)"/><circle cx="365.4" cy="53.7" r="2.4" fill="url(#atR)"/><circle cx="382.2" cy="53.7" r="2.4" fill="url(#atR)"/><circle cx="373.8" cy="53.7" r="2.5" fill="url(#atD)"/><circle cx="357.0" cy="64.3" r="1.5" fill="url(#atY)"/><circle cx="365.4" cy="64.3" r="1.5" fill="url(#atY)"/><circle cx="373.8" cy="64.3" r="1.5" fill="url(#atY)"/><circle cx="382.2" cy="64.3" r="1.5" fill="url(#atY)"/><circle cx="373.8" cy="69.5" r="2.4" fill="url(#atP)"/><circle cx="365.4" cy="74.6" r="1.5" fill="url(#atY)"/><circle cx="382.2" cy="74.6" r="1.5" fill="url(#atY)"/><circle cx="357.4" cy="85.8" r="1.5" fill="url(#atY)"/><circle cx="373.8" cy="84.8" r="1.5" fill="url(#atY)"/><circle cx="366.0" cy="84.5" r="2.5" fill="url(#atD)"/>
<text x="353.3" y="101.2" font-size="9.5" fill="#222" stroke="#222" stroke-width="0.22">InGaZn<tspan font-size="6.2" dy="2">5</tspan><tspan dy="-2">O</tspan><tspan font-size="6.2" dy="2">8</tspan></text>
<text x="405.8" y="53.2" font-size="9.5" fill="#222" stroke="#222" stroke-width="0.22">+</text>
<path d="M442.8,29.3L442.9,24.9" stroke="#6aa6e0" stroke-width="1.0"/><path d="M442.9,24.9L443.0,20.4" stroke="#dede58" stroke-width="1.0"/><path d="M442.8,29.3L438.1,31.1" stroke="#6aa6e0" stroke-width="1.0"/><path d="M438.1,31.1L433.4,33.0" stroke="#dede58" stroke-width="1.0"/><path d="M442.8,29.3L446.0,31.5" stroke="#6aa6e0" stroke-width="1.0"/><path d="M446.0,31.5L449.2,33.8" stroke="#dede58" stroke-width="1.0"/><path d="M455.5,27.9L455.5,23.0" stroke="#6aa6e0" stroke-width="1.0"/><path d="M455.5,23.0L455.5,18.2" stroke="#dede58" stroke-width="1.0"/><path d="M455.5,27.9L452.4,30.8" stroke="#6aa6e0" stroke-width="1.0"/><path d="M452.4,30.8L449.2,33.8" stroke="#dede58" stroke-width="1.0"/><path d="M455.5,27.9L458.6,30.1" stroke="#6aa6e0" stroke-width="1.0"/><path d="M458.6,30.1L461.6,32.4" stroke="#dede58" stroke-width="1.0"/><path d="M446.0,41.5L447.6,37.6" stroke="#6aa6e0" stroke-width="1.0"/><path d="M447.6,37.6L449.2,33.8" stroke="#dede58" stroke-width="1.0"/><path d="M446.0,41.5L442.9,42.4" stroke="#6aa6e0" stroke-width="1.0"/><path d="M442.9,42.4L439.7,43.3" stroke="#dede58" stroke-width="1.0"/><path d="M446.0,41.5L444.6,44.0" stroke="#6aa6e0" stroke-width="1.0"/><path d="M444.6,44.0L443.3,46.4" stroke="#dede58" stroke-width="1.0"/><path d="M446.0,41.5L450.8,42.6" stroke="#6aa6e0" stroke-width="1.0"/><path d="M450.8,42.6L455.5,43.7" stroke="#dede58" stroke-width="1.0"/><path d="M433.4,42.8L433.4,37.9" stroke="#6aa6e0" stroke-width="1.0"/><path d="M433.4,37.9L433.4,33.0" stroke="#dede58" stroke-width="1.0"/><path d="M433.4,42.8L430.3,44.0" stroke="#6aa6e0" stroke-width="1.0"/><path d="M430.3,44.0L427.2,45.1" stroke="#dede58" stroke-width="1.0"/><path d="M433.4,42.8L432.1,45.3" stroke="#6aa6e0" stroke-width="1.0"/><path d="M432.1,45.3L430.8,47.8" stroke="#dede58" stroke-width="1.0"/><path d="M433.4,42.8L436.5,43.0" stroke="#6aa6e0" stroke-width="1.0"/><path d="M436.5,43.0L439.7,43.3" stroke="#dede58" stroke-width="1.0"/><path d="M433.4,42.8L438.4,44.6" stroke="#6aa6e0" stroke-width="1.0"/><path d="M438.4,44.6L443.3,46.4" stroke="#dede58" stroke-width="1.0"/><path d="M442.8,55.3L441.2,49.3" stroke="#6aa6e0" stroke-width="1.0"/><path d="M441.2,49.3L439.7,43.3" stroke="#dede58" stroke-width="1.0"/><path d="M442.8,55.3L443.1,50.8" stroke="#6aa6e0" stroke-width="1.0"/><path d="M443.1,50.8L443.3,46.4" stroke="#dede58" stroke-width="1.0"/><path d="M442.8,55.3L438.1,56.6" stroke="#6aa6e0" stroke-width="1.0"/><path d="M438.1,56.6L433.4,58.0" stroke="#dede58" stroke-width="1.0"/><path d="M442.8,55.3L446.0,57.3" stroke="#6aa6e0" stroke-width="1.0"/><path d="M446.0,57.3L449.2,59.4" stroke="#dede58" stroke-width="1.0"/><path d="M455.5,53.0L455.5,48.4" stroke="#6aa6e0" stroke-width="1.0"/><path d="M455.5,48.4L455.5,43.7" stroke="#dede58" stroke-width="1.0"/><path d="M455.5,53.0L452.4,56.2" stroke="#6aa6e0" stroke-width="1.0"/><path d="M452.4,56.2L449.2,59.4" stroke="#dede58" stroke-width="1.0"/><path d="M455.5,53.0L458.6,55.5" stroke="#6aa6e0" stroke-width="1.0"/><path d="M458.6,55.5L461.6,58.0" stroke="#dede58" stroke-width="1.0"/><path d="M433.4,68.4L433.4,63.2" stroke="#6aa6e0" stroke-width="1.0"/><path d="M433.4,63.2L433.4,58.0" stroke="#dede58" stroke-width="1.0"/><path d="M433.4,68.4L430.3,69.1" stroke="#6aa6e0" stroke-width="1.0"/><path d="M430.3,69.1L427.2,69.7" stroke="#dede58" stroke-width="1.0"/><path d="M433.4,68.4L432.1,70.8" stroke="#6aa6e0" stroke-width="1.0"/><path d="M432.1,70.8L430.8,73.2" stroke="#dede58" stroke-width="1.0"/><path d="M433.4,68.4L436.5,68.6" stroke="#6aa6e0" stroke-width="1.0"/><path d="M436.5,68.6L439.7,68.8" stroke="#dede58" stroke-width="1.0"/><path d="M433.4,68.4L438.4,70.2" stroke="#6aa6e0" stroke-width="1.0"/><path d="M438.4,70.2L443.3,72.0" stroke="#dede58" stroke-width="1.0"/><path d="M446.0,66.6L447.6,63.0" stroke="#6aa6e0" stroke-width="1.0"/><path d="M447.6,63.0L449.2,59.4" stroke="#dede58" stroke-width="1.0"/><path d="M446.0,66.6L442.9,67.7" stroke="#6aa6e0" stroke-width="1.0"/><path d="M442.9,67.7L439.7,68.8" stroke="#dede58" stroke-width="1.0"/><path d="M446.0,66.6L444.6,69.3" stroke="#6aa6e0" stroke-width="1.0"/><path d="M444.6,69.3L443.3,72.0" stroke="#dede58" stroke-width="1.0"/><path d="M446.0,66.6L450.8,67.7" stroke="#6aa6e0" stroke-width="1.0"/><path d="M450.8,67.7L455.5,68.8" stroke="#dede58" stroke-width="1.0"/><path d="M442.8,80.4L441.2,74.6" stroke="#6aa6e0" stroke-width="1.0"/><path d="M441.2,74.6L439.7,68.8" stroke="#dede58" stroke-width="1.0"/><path d="M442.8,80.4L443.1,76.2" stroke="#6aa6e0" stroke-width="1.0"/><path d="M443.1,76.2L443.3,72.0" stroke="#dede58" stroke-width="1.0"/><path d="M442.8,80.4L438.1,82.5" stroke="#6aa6e0" stroke-width="1.0"/><path d="M438.1,82.5L433.4,84.5" stroke="#dede58" stroke-width="1.0"/><path d="M442.8,80.4L446.0,82.7" stroke="#6aa6e0" stroke-width="1.0"/><path d="M446.0,82.7L449.2,84.9" stroke="#dede58" stroke-width="1.0"/><path d="M455.5,78.6L455.5,73.7" stroke="#6aa6e0" stroke-width="1.0"/><path d="M455.5,73.7L455.5,68.8" stroke="#dede58" stroke-width="1.0"/><path d="M455.5,78.6L452.4,81.8" stroke="#6aa6e0" stroke-width="1.0"/><path d="M452.4,81.8L449.2,84.9" stroke="#dede58" stroke-width="1.0"/><path d="M455.5,78.6L458.6,81.1" stroke="#6aa6e0" stroke-width="1.0"/><path d="M458.6,81.1L461.6,83.6" stroke="#dede58" stroke-width="1.0"/><circle cx="443.0" cy="20.4" r="1.5" fill="url(#atY)"/><circle cx="455.5" cy="18.2" r="1.5" fill="url(#atY)"/><circle cx="433.4" cy="33.0" r="1.5" fill="url(#atY)"/><circle cx="449.2" cy="33.8" r="1.5" fill="url(#atY)"/><circle cx="461.6" cy="32.4" r="1.5" fill="url(#atY)"/><circle cx="427.2" cy="45.1" r="1.5" fill="url(#atY)"/><circle cx="430.8" cy="47.8" r="1.5" fill="url(#atY)"/><circle cx="439.7" cy="43.3" r="1.5" fill="url(#atY)"/><circle cx="443.3" cy="46.4" r="1.5" fill="url(#atY)"/><circle cx="455.5" cy="43.7" r="1.5" fill="url(#atY)"/><circle cx="433.4" cy="58.0" r="1.5" fill="url(#atY)"/><circle cx="449.2" cy="59.4" r="1.5" fill="url(#atY)"/><circle cx="461.6" cy="58.0" r="1.5" fill="url(#atY)"/><circle cx="427.2" cy="69.7" r="1.5" fill="url(#atY)"/><circle cx="430.8" cy="73.2" r="1.5" fill="url(#atY)"/><circle cx="439.7" cy="68.8" r="1.5" fill="url(#atY)"/><circle cx="443.3" cy="72.0" r="1.5" fill="url(#atY)"/><circle cx="455.5" cy="68.8" r="1.5" fill="url(#atY)"/><circle cx="433.4" cy="84.5" r="1.5" fill="url(#atY)"/><circle cx="449.2" cy="84.9" r="1.5" fill="url(#atY)"/><circle cx="461.6" cy="83.6" r="1.5" fill="url(#atY)"/><circle cx="442.8" cy="29.3" r="2.5" fill="url(#atB)"/><circle cx="455.5" cy="27.9" r="2.5" fill="url(#atB)"/><circle cx="446.0" cy="41.5" r="2.5" fill="url(#atB)"/><circle cx="433.4" cy="42.8" r="2.5" fill="url(#atB)"/><circle cx="442.8" cy="55.3" r="2.5" fill="url(#atB)"/><circle cx="455.5" cy="53.0" r="2.5" fill="url(#atB)"/><circle cx="433.4" cy="68.4" r="2.5" fill="url(#atB)"/><circle cx="446.0" cy="66.6" r="2.5" fill="url(#atB)"/><circle cx="442.8" cy="80.4" r="2.5" fill="url(#atB)"/><circle cx="455.5" cy="78.6" r="2.5" fill="url(#atB)"/>
<text x="438.2" y="101.2" font-size="9.5" fill="#222" stroke="#222" stroke-width="0.22">ZnO</text>
<text x="472.3" y="54.2" font-size="9.5" fill="#222" stroke="#222" stroke-width="0.22">+</text>
<circle cx="495" cy="49.8" r="10" fill="url(#sOr)" stroke="#c08462" stroke-width="0.8"/><circle cx="497.5" cy="46.2" r="1.6" fill="#fff"/>
<line x1="546" y1="48.2" x2="511" y2="48.2" stroke="#777" stroke-width="0.8"/><path d="M509,48.2 L513,46.4 L513,50 Z" fill="#777"/>
<rect x="545.8" y="12.3" width="30.5" height="72.2" rx="4" fill="none" stroke="#808080" stroke-width="1" stroke-dasharray="3,2.3"/>
<circle cx="560.5" cy="32" r="10" fill="url(#sGray)" stroke="#8a8a8a" stroke-width="0.8"/><circle cx="563" cy="28.5" r="1.6" fill="#fff"/>
<circle cx="560.5" cy="64.3" r="10" fill="url(#sRed)" stroke="#8e545c" stroke-width="0.8"/><circle cx="563" cy="60.8" r="1.6" fill="#fff"/>
<text font-size="9.3" fill="#222" stroke="#222" stroke-width="0.22"><tspan x="496.5" y="14.2">Solid-liquid</tspan><tspan x="496.5" y="25.3">phase</tspan><tspan x="496.5" y="36.5">transition</tspan></text>
<text x="473" y="101.2" font-size="9.3" fill="#222" stroke="#222" stroke-width="0.22">GaIn LM alloy</text>
<line x1="255.3" y1="108.9" x2="597.3" y2="108.9" stroke="#333" stroke-width="1.1" stroke-dasharray="2.4,1.5"/>
<line x1="358.4" y1="111.5" x2="358.4" y2="238" stroke="#3a3a3a" stroke-width="1.3" stroke-dasharray="3.6,3.0"/>
<line x1="473.5" y1="111.5" x2="473.5" y2="240" stroke="#3a3a3a" stroke-width="1.3" stroke-dasharray="3.6,3.0"/>
<rect x="255.3" y="110.6" width="94" height="133.8" fill="#f8f8f8"/>
<line x1="289.6" y1="126.0" x2="289.6" y2="234.0" stroke="#333" stroke-width="1"/>
<path d="M286.8,234.0H289.6M288.0,220.5H289.6M286.8,207.0H289.6M288.0,193.5H289.6M286.8,180.0H289.6M288.0,166.5H289.6M286.8,153.0H289.6M288.0,139.5H289.6M286.8,126.0H289.6" stroke="#333" stroke-width="0.9"/>
<text x="286.3" y="128.9" font-size="8.2" text-anchor="end" fill="#333" stroke="#333" stroke-width="0.22">1.2</text>
<text x="286.3" y="155.9" font-size="8.2" text-anchor="end" fill="#333" stroke="#333" stroke-width="0.22">0.6</text>
<text x="286.3" y="182.9" font-size="8.2" text-anchor="end" fill="#333" stroke="#333" stroke-width="0.22">0.0</text>
<text x="286.3" y="209.9" font-size="8.2" text-anchor="end" fill="#333" stroke="#333" stroke-width="0.22">−0.6</text>
<text x="286.3" y="236.9" font-size="8.2" text-anchor="end" fill="#333" stroke="#333" stroke-width="0.22">−1.2</text>
<rect x="311.6" y="137.7" width="11.2" height="42.3" fill="#74c2ca" stroke="#222" stroke-width="0.8"/>
<rect x="300.2" y="180" width="11.4" height="46.3" fill="#f58c8e" stroke="#222" stroke-width="0.8"/>
<line x1="289.6" y1="180" x2="333.5" y2="180" stroke="#333" stroke-width="1"/>
<rect x="292.5" y="111.6" width="19.2" height="9.8" fill="#f58c8e" stroke="#222" stroke-width="0.8"/>
<rect x="292.5" y="123" width="19.2" height="9.6" fill="#74c2ca" stroke="#222" stroke-width="0.8"/>
<text x="314.8" y="119.6" font-size="9.6" fill="#222" stroke="#222" stroke-width="0.22">Ga<tspan font-size="6.2" dy="-4.2">3+</tspan><tspan dy="4.2"> 2p</tspan></text>
<text x="314.6" y="130.7" font-size="9.6" fill="#222" stroke="#222" stroke-width="0.22">Zn 2p</text>
<text x="0" y="0" font-size="9.3" fill="#222" text-anchor="middle" transform="translate(267.2,180) rotate(-90)" stroke="#222" stroke-width="0.22">Binding energy shift (eV)</text>
<text x="312" y="243.4" font-size="8" text-anchor="middle" fill="#222" stroke="#222" stroke-width="0.22">LM-Zn-8</text>
<text x="367.6" y="121.5" font-size="10.1" fill="#222" stroke="#222" stroke-width="0.22">Electronic</text><text x="416.9" y="121.5" font-size="9.35" fill="#222" stroke="#222" stroke-width="0.22">localization</text>
<path d="M426.8,149 C424,158 414,171.4 399,171.4 C385,171.4 375.7,163 375.7,153 C375.7,142 387,135.3 401,135.3 C413,135.3 421,141 426.8,149 Z" fill="#8dd9ab"/>
<path d="M469,149 C466,158 458,166.5 449,166.5 C439,166.5 431.3,160 431.3,154 C431.3,146 440,139.1 450,139.1 C459,139.1 465,143 469,149 Z" fill="#8dd9ab"/>
<circle cx="401.2" cy="152.6" r="9.6" fill="#4d7ad8" stroke="#1a2f70" stroke-width="0.8"/><circle cx="403.4" cy="148.8" r="1.9" fill="#fff"/>
<circle cx="450.1" cy="152.6" r="9.6" fill="#d68a8f" stroke="#5a2a30" stroke-width="0.8"/><circle cx="452.4" cy="148.9" r="1.9" fill="#fff"/>
<line x1="394.6" y1="185.3" x2="401" y2="173.5" stroke="#111" stroke-width="0.9"/><path d="M402.5,170.6 L402.6,175.2 L399.6,173.6 Z" fill="#111"/>
<text font-size="10.3" fill="#222" stroke="#222" stroke-width="0.22"><tspan x="382.4" y="196.8">More charge</tspan><tspan x="382.4" y="209">accumulation</tspan></text>
<text font-size="10.2" fill="#222" stroke="#222" stroke-width="0.22"><tspan x="373.6" y="229">Enhanced</tspan><tspan x="373.6" y="240.7">polarization loss</tspan></text>
<path d="M517.6,120.5L516.4,116.5" stroke="#6aa6e0" stroke-width="1.0"/><path d="M516.4,116.5L515.2,112.6" stroke="#dede58" stroke-width="1.0"/><path d="M517.6,120.5L523.3,120.5" stroke="#6aa6e0" stroke-width="1.0"/><path d="M523.3,120.5L529.0,120.5" stroke="#dede58" stroke-width="1.0"/><path d="M517.6,120.5L517.6,123.9" stroke="#6aa6e0" stroke-width="1.0"/><path d="M517.6,123.9L517.6,127.3" stroke="#dede58" stroke-width="1.0"/><path d="M517.6,120.5L516.0,125.9" stroke="#6aa6e0" stroke-width="1.0"/><path d="M516.0,125.9L514.3,131.3" stroke="#dede58" stroke-width="1.0"/><path d="M503.0,131.3L501.1,125.9" stroke="#6aa6e0" stroke-width="1.0"/><path d="M501.1,125.9L499.3,120.5" stroke="#dede58" stroke-width="1.0"/><path d="M503.0,131.3L508.6,131.3" stroke="#6aa6e0" stroke-width="1.0"/><path d="M508.6,131.3L514.3,131.3" stroke="#dede58" stroke-width="1.0"/><path d="M503.0,131.3L500.6,135.1" stroke="#6aa6e0" stroke-width="1.0"/><path d="M500.6,135.1L498.2,138.8" stroke="#dede58" stroke-width="1.0"/><path d="M519.8,135.0L518.7,131.2" stroke="#6aa6e0" stroke-width="1.0"/><path d="M518.7,131.2L517.6,127.3" stroke="#dede58" stroke-width="1.0"/><path d="M519.8,135.0L517.0,133.2" stroke="#6aa6e0" stroke-width="1.0"/><path d="M517.0,133.2L514.3,131.3" stroke="#dede58" stroke-width="1.0"/><path d="M519.8,135.0L524.0,136.9" stroke="#6aa6e0" stroke-width="1.0"/><path d="M524.0,136.9L528.1,138.8" stroke="#dede58" stroke-width="1.0"/><path d="M519.8,135.0L518.5,140.5" stroke="#6aa6e0" stroke-width="1.0"/><path d="M518.5,140.5L517.1,146.0" stroke="#dede58" stroke-width="1.0"/><path d="M519.8,135.0L524.9,135.0" stroke="#6aa6e0" stroke-width="1.0"/><path d="M524.9,135.0L530.0,135.0" stroke="#dede58" stroke-width="1.0"/><path d="M532.7,131.3L530.9,125.9" stroke="#6aa6e0" stroke-width="1.0"/><path d="M530.9,125.9L529.0,120.5" stroke="#dede58" stroke-width="1.0"/><path d="M532.7,131.3L530.4,135.1" stroke="#6aa6e0" stroke-width="1.0"/><path d="M530.4,135.1L528.1,138.8" stroke="#dede58" stroke-width="1.0"/><path d="M532.7,131.3L531.4,133.2" stroke="#6aa6e0" stroke-width="1.0"/><path d="M531.4,133.2L530.0,135.0" stroke="#dede58" stroke-width="1.0"/><path d="M505.5,146.0L501.9,142.4" stroke="#6aa6e0" stroke-width="1.0"/><path d="M501.9,142.4L498.2,138.8" stroke="#dede58" stroke-width="1.0"/><path d="M505.5,146.0L511.3,146.0" stroke="#6aa6e0" stroke-width="1.0"/><path d="M511.3,146.0L517.1,146.0" stroke="#dede58" stroke-width="1.0"/><path d="M505.5,146.0L503.1,149.4" stroke="#6aa6e0" stroke-width="1.0"/><path d="M503.1,149.4L500.6,152.9" stroke="#dede58" stroke-width="1.0"/><path d="M534.5,146.0L531.3,142.4" stroke="#6aa6e0" stroke-width="1.0"/><path d="M531.3,142.4L528.1,138.8" stroke="#dede58" stroke-width="1.0"/><path d="M534.5,146.0L533.6,148.1" stroke="#6aa6e0" stroke-width="1.0"/><path d="M533.6,148.1L532.7,150.2" stroke="#dede58" stroke-width="1.0"/><path d="M534.5,146.0L532.2,140.5" stroke="#6aa6e0" stroke-width="1.0"/><path d="M532.2,140.5L530.0,135.0" stroke="#dede58" stroke-width="1.0"/><path d="M547.3,120.5L546.4,116.5" stroke="#6aa6e0" stroke-width="1.0"/><path d="M546.4,116.5L545.5,112.6" stroke="#dede58" stroke-width="1.0"/><path d="M547.3,120.5L545.0,118.7" stroke="#6aa6e0" stroke-width="1.0"/><path d="M545.0,118.7L542.7,116.8" stroke="#dede58" stroke-width="1.0"/><path d="M547.3,120.5L552.8,120.5" stroke="#6aa6e0" stroke-width="1.0"/><path d="M552.8,120.5L558.3,120.5" stroke="#dede58" stroke-width="1.0"/><path d="M547.3,120.5L547.3,123.9" stroke="#6aa6e0" stroke-width="1.0"/><path d="M547.3,123.9L547.3,127.3" stroke="#dede58" stroke-width="1.0"/><path d="M549.5,135.0L548.4,131.2" stroke="#6aa6e0" stroke-width="1.0"/><path d="M548.4,131.2L547.3,127.3" stroke="#dede58" stroke-width="1.0"/><path d="M549.5,135.0L553.8,136.9" stroke="#6aa6e0" stroke-width="1.0"/><path d="M553.8,136.9L558.0,138.8" stroke="#dede58" stroke-width="1.0"/><path d="M549.5,135.0L553.5,135.0" stroke="#6aa6e0" stroke-width="1.0"/><path d="M553.5,135.0L557.4,135.0" stroke="#dede58" stroke-width="1.0"/><path d="M562.5,131.3L560.4,125.9" stroke="#6aa6e0" stroke-width="1.0"/><path d="M560.4,125.9L558.3,120.5" stroke="#dede58" stroke-width="1.0"/><path d="M562.5,131.3L568.0,131.3" stroke="#6aa6e0" stroke-width="1.0"/><path d="M568.0,131.3L573.5,131.3" stroke="#dede58" stroke-width="1.0"/><path d="M562.5,131.3L560.2,135.1" stroke="#6aa6e0" stroke-width="1.0"/><path d="M560.2,135.1L558.0,138.8" stroke="#dede58" stroke-width="1.0"/><path d="M562.5,131.3L560.0,133.2" stroke="#6aa6e0" stroke-width="1.0"/><path d="M560.0,133.2L557.4,135.0" stroke="#dede58" stroke-width="1.0"/><path d="M564.4,146.0L561.2,142.4" stroke="#6aa6e0" stroke-width="1.0"/><path d="M561.2,142.4L558.0,138.8" stroke="#dede58" stroke-width="1.0"/><path d="M564.4,146.0L569.9,146.0" stroke="#6aa6e0" stroke-width="1.0"/><path d="M569.9,146.0L575.4,146.0" stroke="#dede58" stroke-width="1.0"/><path d="M564.4,146.0L562.1,149.4" stroke="#6aa6e0" stroke-width="1.0"/><path d="M562.1,149.4L559.8,152.9" stroke="#dede58" stroke-width="1.0"/><ellipse cx="513.4" cy="115.9" rx="3.3" ry="2.2" fill="#d47c86" opacity="0.85" transform="rotate(-30 513.4 115.9)"/><ellipse cx="540" cy="146" rx="3.3" ry="2.2" fill="#d47c86" opacity="0.85" transform="rotate(0 540 146)"/><ellipse cx="544.6" cy="131" rx="3.3" ry="2.2" fill="#d47c86" opacity="0.85" transform="rotate(25 544.6 131)"/><circle cx="515.2" cy="112.6" r="1.4" fill="url(#atY)"/><circle cx="499.3" cy="120.5" r="1.4" fill="url(#atY)"/><circle cx="529.0" cy="120.5" r="1.4" fill="url(#atY)"/><circle cx="517.6" cy="127.3" r="1.4" fill="url(#atY)"/><circle cx="514.3" cy="131.3" r="1.4" fill="url(#atY)"/><circle cx="498.2" cy="138.8" r="1.4" fill="url(#atY)"/><circle cx="528.1" cy="138.8" r="1.4" fill="url(#atY)"/><circle cx="517.1" cy="146.0" r="1.4" fill="url(#atY)"/><circle cx="500.6" cy="152.9" r="1.4" fill="url(#atY)"/><circle cx="532.7" cy="150.2" r="1.4" fill="url(#atY)"/><circle cx="545.5" cy="112.6" r="1.4" fill="url(#atY)"/><circle cx="542.7" cy="116.8" r="1.4" fill="url(#atY)"/><circle cx="558.3" cy="120.5" r="1.4" fill="url(#atY)"/><circle cx="547.3" cy="127.3" r="1.4" fill="url(#atY)"/><circle cx="573.5" cy="131.3" r="1.4" fill="url(#atY)"/><circle cx="558.0" cy="138.8" r="1.4" fill="url(#atY)"/><circle cx="575.4" cy="146.0" r="1.4" fill="url(#atY)"/><circle cx="559.8" cy="152.9" r="1.4" fill="url(#atY)"/><circle cx="530.0" cy="135.0" r="1.4" fill="url(#atY)"/><circle cx="557.4" cy="135.0" r="1.4" fill="url(#atY)"/><circle cx="517.6" cy="120.5" r="2.4" fill="url(#atB)"/><circle cx="503.0" cy="131.3" r="2.4" fill="url(#atB)"/><circle cx="519.8" cy="135.0" r="2.4" fill="url(#atB)"/><circle cx="532.7" cy="131.3" r="2.4" fill="url(#atB)"/><circle cx="505.5" cy="146.0" r="2.4" fill="url(#atB)"/><circle cx="534.5" cy="146.0" r="2.4" fill="url(#atB)"/><circle cx="547.3" cy="120.5" r="2.4" fill="url(#atB)"/><circle cx="549.5" cy="135.0" r="2.4" fill="url(#atB)"/><circle cx="562.5" cy="131.3" r="2.4" fill="url(#atB)"/><circle cx="564.4" cy="146.0" r="2.4" fill="url(#atB)"/>
<text x="493.6" y="171.4" font-size="10.5" word-spacing="0.8" fill="#222" stroke="#222" stroke-width="0.22">Oxygen vacancy site</text>
<rect x="494.8" y="178.4" width="84.3" height="44.6" fill="url(#gDft)"/>
<path d="M494.8,201.5 Q510,199.5 525,201.5 T555,201 T579,201.5" stroke="#a0a090" stroke-width="0.8" fill="none" stroke-dasharray="1.2,0.8"/>
<circle cx="505.4" cy="213.3" r="7.6" fill="url(#gRing)"/>
<circle cx="550.3" cy="213.3" r="7.6" fill="url(#gRing)"/>
<circle cx="505.4" cy="213.3" r="2.9" fill="url(#atR)"/><circle cx="550.3" cy="213.3" r="2.9" fill="url(#atD)"/>
<circle cx="506.0" cy="184.5" r="2.6" fill="url(#atG)"/>
<circle cx="520.6" cy="211.8" r="2.6" fill="url(#atG)"/>
<circle cx="565.4" cy="211.8" r="2.6" fill="url(#atG)"/>
<circle cx="526.9" cy="195.8" r="2.7" fill="url(#atD)"/>
<circle cx="550.3" cy="192.5" r="2.7" fill="url(#atD)"/>
<text x="523.7" y="190.3" font-size="10.6" fill="#111" stroke="#111" stroke-width="0.22">ZnO (2 0 2)</text>
<text x="493.6" y="238" font-size="10.3" word-spacing="1.4" fill="#222" stroke="#222" stroke-width="0.22">InGaZn<tspan font-size="7" dy="2">5</tspan><tspan dy="-2">O</tspan><tspan font-size="7" dy="2">8</tspan><tspan dy="-2"> (1 1 21)</tspan></text></g>
<g id="pc"><text x="9.8" y="269.6" font-size="19" font-weight="bold" stroke="#111" stroke-width="0.22">c</text>
<path d="M46,277.5 C50.8,294 60.8,312 75,326.2 C86,337 97,346 107,355.5" stroke="#6c9fd2" stroke-width="7.9" fill="none" stroke-linecap="round"/>
<path d="M123.5,354 C135,338 148,322 160.5,311.5 C164,315 165.5,325 166,340 L166,386" stroke="#f8a9ae" stroke-width="7" fill="none" stroke-linecap="round" stroke-linejoin="round" opacity="0.9"/>
<path d="M87,330 C100,337 115,341 135,343 C150,344.5 165,345 180,349 C196,353.5 207,363 220,379.5" stroke="#9fd8d3" stroke-width="7" fill="none" stroke-linecap="round" opacity="0.85"/>
<circle cx="154.7" cy="276.3" r="4.6" fill="#f9b9bd"/><circle cx="154.7" cy="288" r="4.6" fill="#a6dcd7"/>
<text x="161.3" y="279.3" font-size="10.4" fill="#222" stroke="#222" stroke-width="0.22">GaInSn series</text>
<text x="161.3" y="290.3" font-size="10.4" fill="#222" stroke="#222" stroke-width="0.22">GaIn series</text>
<text x="60" y="290.1" font-size="12" fill="#222" stroke="#222" stroke-width="0.22">This work</text>
<path d="M36.6,262.5 H235.2 V391.7 H36.6 Z" fill="none" stroke="#333" stroke-width="1.2"/>
<path d="M36.7,391.7v2.6M51.6,391.7v1.5M66.5,391.7v2.6M81.3,391.7v1.5M96.2,391.7v2.6M111.1,391.7v1.5M126.0,391.7v2.6M140.9,391.7v1.5M155.7,391.7v2.6M170.6,391.7v1.5M185.5,391.7v2.6M200.4,391.7v1.5M215.3,391.7v2.6M36.6,262.5h-2.6M36.6,282.4h-1.5M36.6,302.2h-2.6M36.6,322.1h-1.5M36.6,341.9h-2.6M36.6,361.8h-1.5M36.6,381.6h-2.6" stroke="#333" stroke-width="1"/>
<text x="36.4" y="403.6" font-size="8.8" text-anchor="middle" fill="#333" stroke="#333" stroke-width="0.22">1.2</text>
<text x="66.2" y="403.6" font-size="8.8" text-anchor="middle" fill="#333" stroke="#333" stroke-width="0.22">1.5</text>
<text x="95.9" y="403.6" font-size="8.8" text-anchor="middle" fill="#333" stroke="#333" stroke-width="0.22">1.8</text>
<text x="125.7" y="403.6" font-size="8.8" text-anchor="middle" fill="#333" stroke="#333" stroke-width="0.22">2.1</text>
<text x="155.4" y="403.6" font-size="8.8" text-anchor="middle" fill="#333" stroke="#333" stroke-width="0.22">2.4</text>
<text x="185.2" y="403.6" font-size="8.8" text-anchor="middle" fill="#333" stroke="#333" stroke-width="0.22">2.7</text>
<text x="215.0" y="403.6" font-size="8.8" text-anchor="middle" fill="#333" stroke="#333" stroke-width="0.22">3.0</text>
<text x="31.9" y="266.1" font-size="8.6" text-anchor="end" fill="#333" stroke="#333" stroke-width="0.22">5</text>
<text x="31.9" y="305.8" font-size="8.6" text-anchor="end" fill="#333" stroke="#333" stroke-width="0.22">4</text>
<text x="31.9" y="345.5" font-size="8.6" text-anchor="end" fill="#333" stroke="#333" stroke-width="0.22">3</text>
<text x="31.9" y="385.2" font-size="8.6" text-anchor="end" fill="#333" stroke="#333" stroke-width="0.22">2</text>
<text x="136.4" y="413.2" font-size="9.1" text-anchor="middle" fill="#222" stroke="#222" stroke-width="0.22">Thickness (mm)</text>
<text x="0" y="0" font-size="9.2" text-anchor="middle" fill="#222" transform="translate(23.6,326.9) rotate(-90)" stroke="#222" stroke-width="0.22">EAB/Thickness (GHz/mm)</text>
<polygon points="46.30,276.20 47.53,279.10 50.67,279.38 48.30,281.45 49.00,284.52 46.30,282.90 43.60,284.52 44.30,281.45 41.93,279.38 45.07,279.10" fill="none" stroke="#862a62" stroke-width="1.2"/>
<polygon points="76.50,325.50 77.73,328.40 80.87,328.68 78.50,330.75 79.20,333.82 76.50,332.20 73.80,333.82 74.50,330.75 72.13,328.68 75.27,328.40" fill="none" stroke="#862a62" stroke-width="1.2"/>
<polygon points="86.30,332.10 87.53,335.00 90.67,335.28 88.30,337.35 89.00,340.42 86.30,338.80 83.60,340.42 84.30,337.35 81.93,335.28 85.07,335.00" fill="none" stroke="#862a62" stroke-width="1.2"/>
<polygon points="106.00,350.00 107.23,352.90 110.37,353.18 108.00,355.25 108.70,358.32 106.00,356.70 103.30,358.32 104.00,355.25 101.63,353.18 104.77,352.90" fill="none" stroke="#862a62" stroke-width="1.2"/>
<circle cx="86.2" cy="330.1" r="3" fill="none" stroke="#b0a040" stroke-width="0.9"/>
<polygon points="125.9,341.6 129,344.7 125.9,347.8 122.8,344.7" fill="none" stroke="#3a8ad0" stroke-width="0.9"/>
<polygon points="122.3,349.6 128.5,349.6 125.4,354.6" fill="none" stroke="#8a7060" stroke-width="0.9"/>
<polygon points="155.6,313.4 160.8,310.4 160.8,316.4" fill="none" stroke="#4a40d0" stroke-width="0.9"/>
<circle cx="175.6" cy="331.6" r="2.6" fill="none" stroke="#80c850" stroke-width="0.9"/><circle cx="175.6" cy="331.6" r="0.6" fill="#80c850"/>
<circle cx="166.2" cy="346.6" r="2.8" fill="#9a9a9a" stroke="#6a9a50" stroke-width="0.9"/>
<rect x="163.6" y="379.8" width="5.4" height="5.4" fill="none" stroke="#f09030" stroke-width="0.9"/>
<polygon points="218.5,377.6 213.6,374.8 213.6,380.4" fill="none" stroke="#8a9aa0" stroke-width="0.9"/>
<text x="90" y="333.4" font-size="8.4" fill="#333" stroke="#333" stroke-width="0.22">GaIn Al/NiCo-LDOs</text>
<text x="93" y="363.7" font-size="8.4" fill="#333" stroke="#333" stroke-width="0.22">GaInSn/MXene PDMS</text>
<text x="103.4" y="385.4" font-size="8.4" fill="#333" stroke="#333" stroke-width="0.22">GaInSn-Co MP</text>
<text x="162.7" y="316.2" font-size="8.4" fill="#333" stroke="#333" stroke-width="0.22">Fe/Ni@GaInSn</text>
<text x="174.6" y="326.3" font-size="8.4" fill="#333" stroke="#333" stroke-width="0.22">GaIn CoAl-MOF</text>
<text x="168" y="371" font-size="8.4" fill="#333" stroke="#333" stroke-width="0.22">PPy@rGO@GaIn</text>
<text x="101.7" y="342.2" font-size="8.4" fill="#333" stroke="#333" stroke-width="0.22">GaIn Ni-C-Al<tspan font-size="5.8" dy="2">2</tspan><tspan dy="-2">O</tspan><tspan font-size="5.8" dy="2">3</tspan></text>
<text x="170.3" y="349" font-size="8.4" fill="#333" stroke="#333" stroke-width="0.22">Ti<tspan font-size="5.8" dy="2">3</tspan><tspan dy="-2">AlC</tspan><tspan font-size="5.8" dy="2">2</tspan><tspan dy="-2">/GaInSn</tspan></text></g>
<g id="pd"><text x="257.2" y="269.5" font-size="19.5" stroke="#111" stroke-width="0.22">d</text>
<rect x="298.8" y="260.1" width="32.6" height="100.09999999999997" fill="#fdcaa9"/>
<rect x="364" y="260.1" width="32.8" height="100.09999999999997" fill="#fdcaa9"/>
<rect x="450.3" y="261.6" width="47.3" height="98.59999999999997" fill="#7fc3cb"/>
<rect x="529.2" y="261.6" width="15.8" height="98.59999999999997" fill="#7fc3cb"/>
<polyline points="290.3,352.2 306.7,271.9 323.1,279.8 339.5,352.2 355.9,352.2 372.3,303.7 388.7,296.5 405.1,352.2 421.5,352.2" fill="none" stroke="#4aa9b8" stroke-width="1.2"/>
<circle cx="290.3" cy="352.2" r="3.5" fill="#fff" stroke="#4aa9b8" stroke-width="1.5"/>
<circle cx="306.7" cy="271.9" r="3.5" fill="#fff" stroke="#4aa9b8" stroke-width="1.5"/>
<circle cx="323.1" cy="279.8" r="3.5" fill="#fff" stroke="#4aa9b8" stroke-width="1.5"/>
<circle cx="339.5" cy="352.2" r="3.5" fill="#fff" stroke="#4aa9b8" stroke-width="1.5"/>
<circle cx="355.9" cy="352.2" r="3.5" fill="#fff" stroke="#4aa9b8" stroke-width="1.5"/>
<circle cx="372.3" cy="303.7" r="3.5" fill="#fff" stroke="#4aa9b8" stroke-width="1.5"/>
<circle cx="388.7" cy="296.5" r="3.5" fill="#fff" stroke="#4aa9b8" stroke-width="1.5"/>
<circle cx="405.1" cy="352.2" r="3.5" fill="#fff" stroke="#4aa9b8" stroke-width="1.5"/>
<circle cx="421.5" cy="352.2" r="3.5" fill="#fff" stroke="#4aa9b8" stroke-width="1.5"/>
<polyline points="458.0,306.7 473.6,319.4 489.4,295.0 505.6,352.2 521.0,352.2 537.0,272.6 553.0,352.2 568.8,352.2" fill="none" stroke="#f28c5c" stroke-width="1.2"/>
<circle cx="458.0" cy="306.7" r="3.5" fill="#fff" stroke="#f28c5c" stroke-width="1.5"/>
<circle cx="473.6" cy="319.4" r="3.5" fill="#fff" stroke="#f28c5c" stroke-width="1.5"/>
<circle cx="489.4" cy="295.0" r="3.5" fill="#fff" stroke="#f28c5c" stroke-width="1.5"/>
<circle cx="505.6" cy="352.2" r="3.5" fill="#fff" stroke="#f28c5c" stroke-width="1.5"/>
<circle cx="521.0" cy="352.2" r="3.5" fill="#fff" stroke="#f28c5c" stroke-width="1.5"/>
<circle cx="537.0" cy="272.6" r="3.5" fill="#fff" stroke="#f28c5c" stroke-width="1.5"/>
<circle cx="553.0" cy="352.2" r="3.5" fill="#fff" stroke="#f28c5c" stroke-width="1.5"/>
<circle cx="568.8" cy="352.2" r="3.5" fill="#fff" stroke="#f28c5c" stroke-width="1.5"/>
<path d="M282.2,260.1 H576.6 V360.2 H282.2 Z" fill="none" stroke="#333" stroke-width="1.3"/>
<line x1="437.8" y1="261" x2="437.8" y2="402" stroke="#333" stroke-width="1.1" stroke-dasharray="2,2.2"/>
<path d="M282.2,352.2h-2.2M282.2,343.8h-1.3M282.2,335.5h-2.2M282.2,327.1h-1.3M282.2,318.8h-2.2M282.2,310.4h-1.3M282.2,302.0h-2.2M282.2,293.7h-1.3M282.2,285.3h-2.2M282.2,277.0h-1.3M282.2,268.6h-2.2M290.0,360.2v2.2M306.4,360.2v2.2M322.9,360.2v2.2M339.4,360.2v2.2M355.8,360.2v2.2M372.2,360.2v2.2M388.7,360.2v2.2M405.1,360.2v2.2M421.6,360.2v2.2M454.8,360.2v2.2M470.6,360.2v2.2M486.4,360.2v2.2M503.0,360.2v2.2M519.7,360.2v2.2M535.8,360.2v2.2M552.0,360.2v2.2M568.3,360.2v2.2" stroke="#333" stroke-width="0.9"/>
<text x="278.3" y="354.6" font-size="9" text-anchor="end" fill="#333" stroke="#333" stroke-width="0.22">0</text>
<text x="278.3" y="337.9" font-size="9" text-anchor="end" fill="#333" stroke="#333" stroke-width="0.22">1</text>
<text x="278.3" y="321.2" font-size="9" text-anchor="end" fill="#333" stroke="#333" stroke-width="0.22">2</text>
<text x="278.3" y="304.4" font-size="9" text-anchor="end" fill="#333" stroke="#333" stroke-width="0.22">3</text>
<text x="278.3" y="287.7" font-size="9" text-anchor="end" fill="#333" stroke="#333" stroke-width="0.22">4</text>
<text x="278.3" y="271.0" font-size="9" text-anchor="end" fill="#333" stroke="#333" stroke-width="0.22">5</text>
<text x="0" y="0" font-size="10.8" text-anchor="middle" fill="#222" transform="translate(267.6,309.9) rotate(-90)" stroke="#222" stroke-width="0.22">EAB</text>
<text x="285.5" y="272" font-size="14" fill="#3a8ad6" stroke="#3a8ad6" stroke-width="0.22">Cr</text>
<text x="442.4" y="273.8" font-size="13.3" fill="#f04048" stroke="#f04048" stroke-width="0.22">Al</text>
<text x="0" y="0" font-size="12" text-anchor="end" fill="#222" transform="translate(294.8,363.4) rotate(-90) scale(1,0.9)" stroke="#222" stroke-width="0.22">LM-Cr-2</text>
<text x="0" y="0" font-size="12" text-anchor="end" fill="#222" transform="translate(311.2,363.4) rotate(-90) scale(1,0.9)" stroke="#222" stroke-width="0.22">LM-Cr-4</text>
<text x="0" y="0" font-size="12" text-anchor="end" fill="#222" transform="translate(327.7,363.4) rotate(-90) scale(1,0.9)" stroke="#222" stroke-width="0.22">LM-Cr-8</text>
<text x="0" y="0" font-size="12" text-anchor="end" fill="#222" transform="translate(344.2,363.4) rotate(-90) scale(1,0.9)" stroke="#222" stroke-width="0.22">LM-Cr-12</text>
<text x="0" y="0" font-size="12" text-anchor="end" fill="#222" transform="translate(360.6,363.4) rotate(-90) scale(1,0.9)" stroke="#222" stroke-width="0.22">LM-Cr-14</text>
<text x="0" y="0" font-size="12" text-anchor="end" fill="#222" transform="translate(377.1,363.4) rotate(-90) scale(1,0.9)" stroke="#222" stroke-width="0.22">LM-Cr-18</text>
<text x="0" y="0" font-size="12" text-anchor="end" fill="#222" transform="translate(393.5,363.4) rotate(-90) scale(1,0.9)" stroke="#222" stroke-width="0.22">LM-Cr-20</text>
<text x="0" y="0" font-size="12" text-anchor="end" fill="#222" transform="translate(409.9,363.4) rotate(-90) scale(1,0.9)" stroke="#222" stroke-width="0.22">LM-Cr-22</text>
<text x="0" y="0" font-size="12" text-anchor="end" fill="#222" transform="translate(426.4,363.4) rotate(-90) scale(1,0.9)" stroke="#222" stroke-width="0.22">LM-Cr-24</text>
<text x="0" y="0" font-size="12" text-anchor="end" fill="#222" transform="translate(459.6,363.4) rotate(-90) scale(1,0.9)" stroke="#222" stroke-width="0.22">LM-Al-4</text>
<text x="0" y="0" font-size="12" text-anchor="end" fill="#222" transform="translate(475.4,363.4) rotate(-90) scale(1,0.9)" stroke="#222" stroke-width="0.22">LM-Al-8</text>
<text x="0" y="0" font-size="12" text-anchor="end" fill="#222" transform="translate(491.2,363.4) rotate(-90) scale(1,0.9)" stroke="#222" stroke-width="0.22">LM-Al-12</text>
<text x="0" y="0" font-size="12" text-anchor="end" fill="#222" transform="translate(507.8,363.4) rotate(-90) scale(1,0.9)" stroke="#222" stroke-width="0.22">LM-Al-16</text>
<text x="0" y="0" font-size="12" text-anchor="end" fill="#222" transform="translate(524.5,363.4) rotate(-90) scale(1,0.9)" stroke="#222" stroke-width="0.22">LM-Al-20</text>
<text x="0" y="0" font-size="12" text-anchor="end" fill="#222" transform="translate(540.6,363.4) rotate(-90) scale(1,0.9)" stroke="#222" stroke-width="0.22">LM-Al-24</text>
<text x="0" y="0" font-size="12" text-anchor="end" fill="#222" transform="translate(556.8,363.4) rotate(-90) scale(1,0.9)" stroke="#222" stroke-width="0.22">LM-Al-28</text>
<text x="0" y="0" font-size="12" text-anchor="end" fill="#222" transform="translate(573.1,363.4) rotate(-90) scale(1,0.9)" stroke="#222" stroke-width="0.22">LM-Al-32</text></g>
</svg>
</body></html>
